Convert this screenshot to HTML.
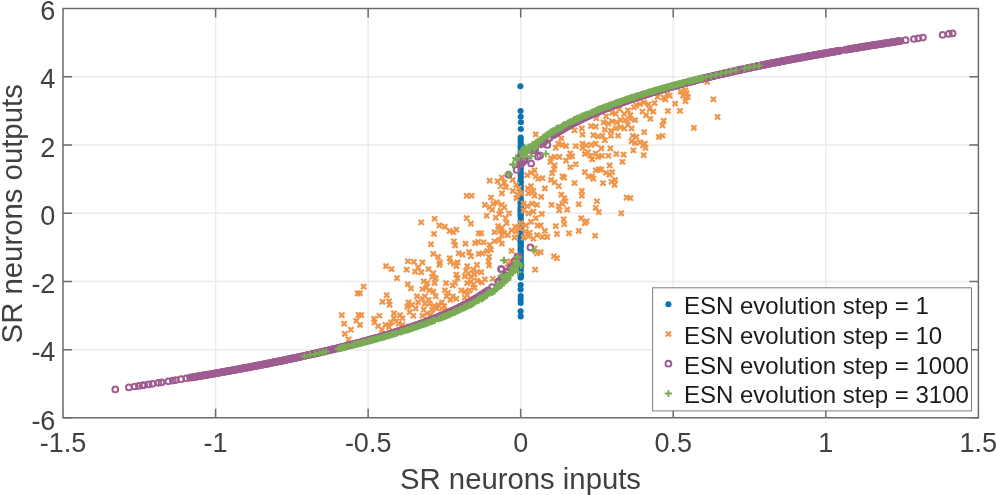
<!DOCTYPE html>
<html><head><meta charset="utf-8"><style>
html,body{margin:0;padding:0;background:#fff;width:996px;height:495px;overflow:hidden}
svg{display:block;font-family:"Liberation Sans",sans-serif;will-change:transform;filter:blur(0.3px)}
</style></head><body>
<svg width="996" height="495" viewBox="0 0 996 495">
<rect width="996" height="495" fill="#fff"/>
<path d="M215.60 8.4V417.8M368.15 8.4V417.8M520.70 8.4V417.8M673.25 8.4V417.8M825.80 8.4V417.8M63.0 349.65H978.4M63.0 281.40H978.4M63.0 213.15H978.4M63.0 144.90H978.4M63.0 76.65H978.4" stroke="#ebebeb" stroke-width="1.5" fill="none"/><g fill="#0b73b3"><circle cx="520.4" cy="86.2" r="3.05"/><circle cx="520.6" cy="111.0" r="3.05"/><circle cx="520.7" cy="116.8" r="3.05"/><circle cx="520.9" cy="122.2" r="3.05"/><circle cx="520.8" cy="129.0" r="3.05"/><circle cx="520.7" cy="137.5" r="3.05"/><circle cx="520.6" cy="139.8" r="3.05"/><circle cx="520.7" cy="142.5" r="3.05"/><circle cx="520.9" cy="145.1" r="3.05"/><circle cx="520.6" cy="146.5" r="3.05"/><circle cx="520.7" cy="148.1" r="3.05"/><circle cx="520.8" cy="150.9" r="3.05"/><circle cx="520.7" cy="151.9" r="3.05"/><circle cx="520.7" cy="154.5" r="3.05"/><circle cx="520.5" cy="157.1" r="3.05"/><circle cx="520.7" cy="159.1" r="3.05"/><circle cx="520.6" cy="160.7" r="3.05"/><circle cx="520.9" cy="162.2" r="3.05"/><circle cx="520.8" cy="163.7" r="3.05"/><circle cx="520.7" cy="165.6" r="3.05"/><circle cx="520.8" cy="167.6" r="3.05"/><circle cx="520.6" cy="169.8" r="3.05"/><circle cx="520.9" cy="172.7" r="3.05"/><circle cx="520.7" cy="175.3" r="3.05"/><circle cx="520.8" cy="177.6" r="3.05"/><circle cx="520.5" cy="180.6" r="3.05"/><circle cx="520.8" cy="182.0" r="3.05"/><circle cx="520.4" cy="183.3" r="3.05"/><circle cx="520.4" cy="185.5" r="3.05"/><circle cx="520.7" cy="186.6" r="3.05"/><circle cx="520.6" cy="187.7" r="3.05"/><circle cx="520.7" cy="189.7" r="3.05"/><circle cx="521.0" cy="191.7" r="3.05"/><circle cx="520.6" cy="194.5" r="3.05"/><circle cx="520.6" cy="196.7" r="3.05"/><circle cx="520.7" cy="198.8" r="3.05"/><circle cx="520.8" cy="200.8" r="3.05"/><circle cx="520.7" cy="202.3" r="3.05"/><circle cx="520.7" cy="203.3" r="3.05"/><circle cx="520.8" cy="204.7" r="3.05"/><circle cx="520.8" cy="207.1" r="3.05"/><circle cx="520.5" cy="208.5" r="3.05"/><circle cx="520.7" cy="210.2" r="3.05"/><circle cx="520.7" cy="211.2" r="3.05"/><circle cx="520.5" cy="213.9" r="3.05"/><circle cx="520.7" cy="215.2" r="3.05"/><circle cx="520.6" cy="216.7" r="3.05"/><circle cx="520.8" cy="219.5" r="3.05"/><circle cx="520.7" cy="221.5" r="3.05"/><circle cx="520.7" cy="224.2" r="3.05"/><circle cx="520.6" cy="226.5" r="3.05"/><circle cx="520.7" cy="228.9" r="3.05"/><circle cx="520.4" cy="230.1" r="3.05"/><circle cx="520.5" cy="232.2" r="3.05"/><circle cx="520.8" cy="234.2" r="3.05"/><circle cx="520.4" cy="237.0" r="3.05"/><circle cx="520.8" cy="238.7" r="3.05"/><circle cx="520.4" cy="240.9" r="3.05"/><circle cx="520.8" cy="242.0" r="3.05"/><circle cx="520.6" cy="243.8" r="3.05"/><circle cx="520.8" cy="245.4" r="3.05"/><circle cx="520.7" cy="246.7" r="3.05"/><circle cx="520.5" cy="249.4" r="3.05"/><circle cx="520.9" cy="251.1" r="3.05"/><circle cx="520.9" cy="254.1" r="3.05"/><circle cx="520.7" cy="256.3" r="3.05"/><circle cx="520.7" cy="258.5" r="3.05"/><circle cx="520.7" cy="260.7" r="3.05"/><circle cx="520.6" cy="263.1" r="3.05"/><circle cx="520.9" cy="264.4" r="3.05"/><circle cx="520.6" cy="266.3" r="3.05"/><circle cx="520.7" cy="267.8" r="3.05"/><circle cx="520.6" cy="269.6" r="3.05"/><circle cx="520.6" cy="270.8" r="3.05"/><circle cx="520.5" cy="273.7" r="3.05"/><circle cx="520.9" cy="275.1" r="3.05"/><circle cx="520.7" cy="277.5" r="3.05"/><circle cx="520.8" cy="277.5" r="3.05"/><circle cx="520.7" cy="285.0" r="3.05"/><circle cx="520.6" cy="289.5" r="3.05"/><circle cx="520.7" cy="296.0" r="3.05"/><circle cx="520.6" cy="299.5" r="3.05"/><circle cx="520.7" cy="303.0" r="3.05"/><circle cx="520.6" cy="311.2" r="3.05"/><circle cx="520.7" cy="316.4" r="3.05"/></g><path stroke="#f0964a" stroke-width="2.3" fill="none" d="M704.7 79.3l5.1 5.1M709.8 79.3l-5.1 5.1M678.1 89.0l5.1 5.1M683.2 89.0l-5.1 5.1M682.9 87.8l5.1 5.1M688.0 87.8l-5.1 5.1M684.1 90.8l5.1 5.1M689.2 90.8l-5.1 5.1M680.5 93.2l5.1 5.1M685.6 93.2l-5.1 5.1M685.3 94.4l5.1 5.1M690.4 94.4l-5.1 5.1M682.9 98.7l5.1 5.1M688.0 98.7l-5.1 5.1M664.7 92.0l5.1 5.1M669.8 92.0l-5.1 5.1M667.1 93.2l5.1 5.1M672.2 93.2l-5.1 5.1M661.1 95.0l5.1 5.1M666.2 95.0l-5.1 5.1M662.9 96.8l5.1 5.1M668.0 96.8l-5.1 5.1M672.6 101.1l5.1 5.1M677.7 101.1l-5.1 5.1M710.8 96.8l5.1 5.1M715.9 96.8l-5.1 5.1M665.3 108.4l5.1 5.1M670.4 108.4l-5.1 5.1M677.5 108.4l5.1 5.1M682.5 108.4l-5.1 5.1M715.0 114.4l5.1 5.1M720.1 114.4l-5.1 5.1M661.1 118.1l5.1 5.1M666.2 118.1l-5.1 5.1M659.9 122.9l5.1 5.1M665.0 122.9l-5.1 5.1M691.4 125.3l5.1 5.1M696.5 125.3l-5.1 5.1M659.9 133.2l5.1 5.1M665.0 133.2l-5.1 5.1M655.0 94.4l5.1 5.1M660.1 94.4l-5.1 5.1M652.0 100.5l5.1 5.1M657.1 100.5l-5.1 5.1M645.9 101.7l5.1 5.1M651.0 101.7l-5.1 5.1M641.1 99.9l5.1 5.1M646.2 99.9l-5.1 5.1M637.5 101.7l5.1 5.1M642.5 101.7l-5.1 5.1M633.8 102.9l5.1 5.1M638.9 102.9l-5.1 5.1M631.4 104.7l5.1 5.1M636.5 104.7l-5.1 5.1M647.1 106.5l5.1 5.1M652.2 106.5l-5.1 5.1M650.8 109.0l5.1 5.1M655.9 109.0l-5.1 5.1M643.5 112.6l5.1 5.1M648.6 112.6l-5.1 5.1M647.8 116.2l5.1 5.1M652.9 116.2l-5.1 5.1M639.9 109.0l5.1 5.1M645.0 109.0l-5.1 5.1M625.3 107.8l5.1 5.1M630.4 107.8l-5.1 5.1M621.7 111.4l5.1 5.1M626.8 111.4l-5.1 5.1M627.8 112.6l5.1 5.1M632.9 112.6l-5.1 5.1M616.8 106.5l5.1 5.1M621.9 106.5l-5.1 5.1M613.2 111.4l5.1 5.1M618.3 111.4l-5.1 5.1M609.6 110.2l5.1 5.1M614.7 110.2l-5.1 5.1M603.5 113.8l5.1 5.1M608.6 113.8l-5.1 5.1M601.1 119.9l5.1 5.1M606.2 119.9l-5.1 5.1M605.9 121.1l5.1 5.1M611.0 121.1l-5.1 5.1M609.6 118.7l5.1 5.1M614.7 118.7l-5.1 5.1M614.4 119.9l5.1 5.1M619.5 119.9l-5.1 5.1M618.1 117.5l5.1 5.1M623.2 117.5l-5.1 5.1M622.9 117.5l5.1 5.1M628.0 117.5l-5.1 5.1M627.8 116.2l5.1 5.1M632.9 116.2l-5.1 5.1M632.6 117.5l5.1 5.1M637.7 117.5l-5.1 5.1M625.3 122.3l5.1 5.1M630.4 122.3l-5.1 5.1M629.0 125.9l5.1 5.1M634.1 125.9l-5.1 5.1M621.7 125.9l5.1 5.1M626.8 125.9l-5.1 5.1M618.1 124.7l5.1 5.1M623.2 124.7l-5.1 5.1M613.2 125.9l5.1 5.1M618.3 125.9l-5.1 5.1M608.4 128.4l5.1 5.1M613.5 128.4l-5.1 5.1M602.3 127.1l5.1 5.1M607.4 127.1l-5.1 5.1M599.9 133.2l5.1 5.1M605.0 133.2l-5.1 5.1M608.4 133.2l5.1 5.1M613.5 133.2l-5.1 5.1M615.6 133.2l5.1 5.1M620.7 133.2l-5.1 5.1M630.2 133.2l5.1 5.1M635.3 133.2l-5.1 5.1M633.8 134.4l5.1 5.1M638.9 134.4l-5.1 5.1M641.7 129.6l5.1 5.1M646.8 129.6l-5.1 5.1M656.2 134.4l5.1 5.1M661.3 134.4l-5.1 5.1M593.8 115.6l5.1 5.1M598.9 115.6l-5.1 5.1M588.4 123.5l5.1 5.1M593.5 123.5l-5.1 5.1M593.2 124.1l5.1 5.1M598.3 124.1l-5.1 5.1M579.3 125.9l5.1 5.1M584.4 125.9l-5.1 5.1M572.0 127.8l5.1 5.1M577.1 127.8l-5.1 5.1M579.9 132.0l5.1 5.1M585.0 132.0l-5.1 5.1M590.8 132.6l5.1 5.1M595.9 132.6l-5.1 5.1M595.6 133.8l5.1 5.1M600.7 133.8l-5.1 5.1M558.7 135.9l5.1 5.1M563.8 135.9l-5.1 5.1M555.6 141.1l5.1 5.1M560.7 141.1l-5.1 5.1M559.9 142.3l5.1 5.1M565.0 142.3l-5.1 5.1M563.5 143.5l5.1 5.1M568.6 143.5l-5.1 5.1M553.2 145.3l5.1 5.1M558.3 145.3l-5.1 5.1M573.2 143.5l5.1 5.1M578.3 143.5l-5.1 5.1M579.9 141.1l5.1 5.1M585.0 141.1l-5.1 5.1M583.5 142.9l5.1 5.1M588.6 142.9l-5.1 5.1M588.4 142.3l5.1 5.1M593.5 142.3l-5.1 5.1M593.2 141.1l5.1 5.1M598.3 141.1l-5.1 5.1M579.9 145.3l5.1 5.1M585.0 145.3l-5.1 5.1M585.3 149.6l5.1 5.1M590.4 149.6l-5.1 5.1M587.8 153.2l5.1 5.1M592.9 153.2l-5.1 5.1M589.6 156.8l5.1 5.1M594.7 156.8l-5.1 5.1M582.3 151.4l5.1 5.1M587.4 151.4l-5.1 5.1M593.2 150.8l5.1 5.1M598.3 150.8l-5.1 5.1M595.6 154.4l5.1 5.1M600.7 154.4l-5.1 5.1M567.8 150.8l5.1 5.1M572.9 150.8l-5.1 5.1M566.5 154.4l5.1 5.1M571.6 154.4l-5.1 5.1M569.6 153.8l5.1 5.1M574.7 153.8l-5.1 5.1M563.5 158.1l5.1 5.1M568.6 158.1l-5.1 5.1M548.4 155.6l5.1 5.1M553.5 155.6l-5.1 5.1M552.0 154.4l5.1 5.1M557.1 154.4l-5.1 5.1M556.8 154.4l5.1 5.1M561.9 154.4l-5.1 5.1M547.8 159.3l5.1 5.1M552.9 159.3l-5.1 5.1M552.0 162.9l5.1 5.1M557.1 162.9l-5.1 5.1M551.4 166.5l5.1 5.1M556.5 166.5l-5.1 5.1M567.8 164.7l5.1 5.1M572.9 164.7l-5.1 5.1M573.2 161.7l5.1 5.1M578.3 161.7l-5.1 5.1M549.6 170.8l5.1 5.1M554.7 170.8l-5.1 5.1M559.9 173.8l5.1 5.1M565.0 173.8l-5.1 5.1M561.7 175.0l5.1 5.1M566.8 175.0l-5.1 5.1M548.4 177.4l5.1 5.1M553.5 177.4l-5.1 5.1M552.0 179.9l5.1 5.1M557.1 179.9l-5.1 5.1M556.2 183.5l5.1 5.1M561.3 183.5l-5.1 5.1M539.9 175.6l5.1 5.1M545.0 175.6l-5.1 5.1M542.3 185.9l5.1 5.1M547.4 185.9l-5.1 5.1M572.0 180.5l5.1 5.1M577.1 180.5l-5.1 5.1M582.3 169.6l5.1 5.1M587.4 169.6l-5.1 5.1M585.9 173.8l5.1 5.1M591.0 173.8l-5.1 5.1M589.6 173.8l5.1 5.1M594.7 173.8l-5.1 5.1M593.2 167.8l5.1 5.1M598.3 167.8l-5.1 5.1M596.2 166.5l5.1 5.1M601.3 166.5l-5.1 5.1M590.8 176.2l5.1 5.1M595.9 176.2l-5.1 5.1M579.3 188.4l5.1 5.1M584.4 188.4l-5.1 5.1M579.3 193.2l5.1 5.1M584.4 193.2l-5.1 5.1M558.7 192.0l5.1 5.1M563.8 192.0l-5.1 5.1M561.7 195.6l5.1 5.1M566.8 195.6l-5.1 5.1M538.7 194.4l5.1 5.1M543.8 194.4l-5.1 5.1M602.3 137.7l5.1 5.1M607.4 137.7l-5.1 5.1M629.0 138.7l5.1 5.1M634.1 138.7l-5.1 5.1M632.6 140.5l5.1 5.1M637.7 140.5l-5.1 5.1M637.5 139.9l5.1 5.1M642.5 139.9l-5.1 5.1M642.3 141.1l5.1 5.1M647.4 141.1l-5.1 5.1M642.9 145.3l5.1 5.1M648.0 145.3l-5.1 5.1M640.5 142.9l5.1 5.1M645.6 142.9l-5.1 5.1M630.8 147.8l5.1 5.1M635.9 147.8l-5.1 5.1M641.1 152.6l5.1 5.1M646.2 152.6l-5.1 5.1M598.7 145.9l5.1 5.1M603.8 145.9l-5.1 5.1M607.8 145.9l5.1 5.1M612.9 145.9l-5.1 5.1M599.3 153.2l5.1 5.1M604.4 153.2l-5.1 5.1M605.9 153.2l5.1 5.1M611.0 153.2l-5.1 5.1M613.8 151.4l5.1 5.1M618.9 151.4l-5.1 5.1M621.1 152.0l5.1 5.1M626.2 152.0l-5.1 5.1M619.9 159.3l5.1 5.1M625.0 159.3l-5.1 5.1M607.1 162.9l5.1 5.1M612.2 162.9l-5.1 5.1M598.7 167.1l5.1 5.1M603.8 167.1l-5.1 5.1M603.5 170.2l5.1 5.1M608.6 170.2l-5.1 5.1M609.6 169.6l5.1 5.1M614.7 169.6l-5.1 5.1M607.1 172.0l5.1 5.1M612.2 172.0l-5.1 5.1M612.6 177.4l5.1 5.1M617.7 177.4l-5.1 5.1M609.0 179.3l5.1 5.1M614.1 179.3l-5.1 5.1M612.0 182.3l5.1 5.1M617.1 182.3l-5.1 5.1M600.5 180.5l5.1 5.1M605.6 180.5l-5.1 5.1M624.1 195.0l5.1 5.1M629.2 195.0l-5.1 5.1M627.8 195.6l5.1 5.1M632.9 195.6l-5.1 5.1M487.1 178.1l5.1 5.1M492.2 178.1l-5.1 5.1M495.0 178.7l5.1 5.1M500.1 178.7l-5.1 5.1M499.3 175.0l5.1 5.1M504.4 175.0l-5.1 5.1M501.7 179.9l5.1 5.1M506.8 179.9l-5.1 5.1M498.1 183.5l5.1 5.1M503.2 183.5l-5.1 5.1M503.5 184.7l5.1 5.1M508.6 184.7l-5.1 5.1M499.3 190.8l5.1 5.1M504.4 190.8l-5.1 5.1M488.4 195.0l5.1 5.1M493.5 195.0l-5.1 5.1M510.2 177.4l5.1 5.1M515.3 177.4l-5.1 5.1M513.8 182.3l5.1 5.1M518.9 182.3l-5.1 5.1M516.2 185.9l5.1 5.1M521.3 185.9l-5.1 5.1M510.2 188.4l5.1 5.1M515.3 188.4l-5.1 5.1M515.0 192.0l5.1 5.1M520.1 192.0l-5.1 5.1M518.7 190.8l5.1 5.1M523.8 190.8l-5.1 5.1M525.3 185.9l5.1 5.1M530.4 185.9l-5.1 5.1M528.4 183.5l5.1 5.1M533.5 183.5l-5.1 5.1M530.8 188.4l5.1 5.1M535.9 188.4l-5.1 5.1M525.9 190.8l5.1 5.1M531.0 190.8l-5.1 5.1M532.0 193.2l5.1 5.1M537.1 193.2l-5.1 5.1M528.4 170.2l5.1 5.1M533.5 170.2l-5.1 5.1M532.0 167.8l5.1 5.1M537.1 167.8l-5.1 5.1M524.7 172.6l5.1 5.1M529.8 172.6l-5.1 5.1M533.2 173.8l5.1 5.1M538.3 173.8l-5.1 5.1M535.6 176.2l5.1 5.1M540.7 176.2l-5.1 5.1M513.8 195.6l5.1 5.1M518.9 195.6l-5.1 5.1M482.3 202.3l5.1 5.1M487.4 202.3l-5.1 5.1M487.1 204.7l5.1 5.1M492.2 204.7l-5.1 5.1M490.8 201.1l5.1 5.1M495.9 201.1l-5.1 5.1M494.4 199.9l5.1 5.1M499.5 199.9l-5.1 5.1M499.3 202.3l5.1 5.1M504.4 202.3l-5.1 5.1M501.7 204.7l5.1 5.1M506.8 204.7l-5.1 5.1M489.6 207.1l5.1 5.1M494.7 207.1l-5.1 5.1M484.1 213.2l5.1 5.1M489.2 213.2l-5.1 5.1M493.2 215.0l5.1 5.1M498.3 215.0l-5.1 5.1M496.8 211.4l5.1 5.1M501.9 211.4l-5.1 5.1M498.1 208.4l5.1 5.1M503.2 208.4l-5.1 5.1M506.5 210.8l5.1 5.1M511.6 210.8l-5.1 5.1M502.9 215.6l5.1 5.1M508.0 215.6l-5.1 5.1M495.6 223.5l5.1 5.1M500.7 223.5l-5.1 5.1M499.3 225.3l5.1 5.1M504.4 225.3l-5.1 5.1M504.1 220.5l5.1 5.1M509.2 220.5l-5.1 5.1M497.4 227.8l5.1 5.1M502.6 227.8l-5.1 5.1M492.0 229.6l5.1 5.1M497.1 229.6l-5.1 5.1M501.7 230.2l5.1 5.1M506.8 230.2l-5.1 5.1M499.3 232.6l5.1 5.1M504.4 232.6l-5.1 5.1M505.3 232.6l5.1 5.1M510.4 232.6l-5.1 5.1M509.0 227.8l5.1 5.1M514.1 227.8l-5.1 5.1M512.6 224.1l5.1 5.1M517.7 224.1l-5.1 5.1M513.8 229.0l5.1 5.1M518.9 229.0l-5.1 5.1M512.0 235.0l5.1 5.1M517.1 235.0l-5.1 5.1M478.7 230.8l5.1 5.1M483.8 230.8l-5.1 5.1M481.1 239.9l5.1 5.1M486.2 239.9l-5.1 5.1M487.1 242.3l5.1 5.1M492.2 242.3l-5.1 5.1M492.0 238.7l5.1 5.1M497.1 238.7l-5.1 5.1M496.8 237.4l5.1 5.1M501.9 237.4l-5.1 5.1M499.3 241.1l5.1 5.1M504.4 241.1l-5.1 5.1M484.7 248.4l5.1 5.1M489.8 248.4l-5.1 5.1M479.9 250.8l5.1 5.1M485.0 250.8l-5.1 5.1M488.4 247.1l5.1 5.1M493.5 247.1l-5.1 5.1M486.5 254.4l5.1 5.1M491.6 254.4l-5.1 5.1M509.0 248.4l5.1 5.1M514.1 248.4l-5.1 5.1M518.1 220.5l5.1 5.1M523.2 220.5l-5.1 5.1M517.5 225.9l5.1 5.1M522.5 225.9l-5.1 5.1M523.5 222.9l5.1 5.1M528.6 222.9l-5.1 5.1M522.9 229.0l5.1 5.1M528.0 229.0l-5.1 5.1M527.1 230.2l5.1 5.1M532.2 230.2l-5.1 5.1M525.9 233.8l5.1 5.1M531.0 233.8l-5.1 5.1M521.1 235.0l5.1 5.1M526.2 235.0l-5.1 5.1M530.8 236.2l5.1 5.1M535.9 236.2l-5.1 5.1M534.4 232.6l5.1 5.1M539.5 232.6l-5.1 5.1M534.4 250.8l5.1 5.1M539.5 250.8l-5.1 5.1M532.0 245.9l5.1 5.1M537.1 245.9l-5.1 5.1M521.1 201.1l5.1 5.1M526.2 201.1l-5.1 5.1M524.7 203.5l5.1 5.1M529.8 203.5l-5.1 5.1M529.6 201.1l5.1 5.1M534.7 201.1l-5.1 5.1M534.4 202.3l5.1 5.1M539.5 202.3l-5.1 5.1M521.1 207.8l5.1 5.1M526.2 207.8l-5.1 5.1M525.9 210.8l5.1 5.1M531.0 210.8l-5.1 5.1M530.8 209.0l5.1 5.1M535.9 209.0l-5.1 5.1M533.2 215.6l5.1 5.1M538.3 215.6l-5.1 5.1M535.0 222.9l5.1 5.1M540.1 222.9l-5.1 5.1M528.4 219.3l5.1 5.1M533.5 219.3l-5.1 5.1M549.0 202.3l5.1 5.1M554.1 202.3l-5.1 5.1M556.2 203.5l5.1 5.1M561.3 203.5l-5.1 5.1M556.8 207.8l5.1 5.1M561.9 207.8l-5.1 5.1M559.9 201.1l5.1 5.1M565.0 201.1l-5.1 5.1M562.9 198.7l5.1 5.1M568.0 198.7l-5.1 5.1M564.7 207.1l5.1 5.1M569.8 207.1l-5.1 5.1M576.2 201.7l5.1 5.1M581.3 201.7l-5.1 5.1M594.4 198.7l5.1 5.1M599.5 198.7l-5.1 5.1M593.2 205.3l5.1 5.1M598.3 205.3l-5.1 5.1M596.2 209.6l5.1 5.1M601.3 209.6l-5.1 5.1M539.3 211.4l5.1 5.1M544.4 211.4l-5.1 5.1M561.1 216.8l5.1 5.1M566.2 216.8l-5.1 5.1M561.7 221.7l5.1 5.1M566.8 221.7l-5.1 5.1M553.2 223.5l5.1 5.1M558.3 223.5l-5.1 5.1M578.7 215.6l5.1 5.1M583.8 215.6l-5.1 5.1M582.3 220.5l5.1 5.1M587.4 220.5l-5.1 5.1M584.1 218.7l5.1 5.1M589.2 218.7l-5.1 5.1M538.1 222.9l5.1 5.1M543.2 222.9l-5.1 5.1M542.3 228.4l5.1 5.1M547.4 228.4l-5.1 5.1M539.9 234.4l5.1 5.1M545.0 234.4l-5.1 5.1M544.7 234.4l5.1 5.1M549.8 234.4l-5.1 5.1M554.4 231.4l5.1 5.1M559.5 231.4l-5.1 5.1M566.5 230.8l5.1 5.1M571.6 230.8l-5.1 5.1M576.2 228.4l5.1 5.1M581.3 228.4l-5.1 5.1M592.6 233.2l5.1 5.1M597.7 233.2l-5.1 5.1M538.1 249.6l5.1 5.1M543.2 249.6l-5.1 5.1M551.4 253.8l5.1 5.1M556.5 253.8l-5.1 5.1M554.4 255.6l5.1 5.1M559.5 255.6l-5.1 5.1M618.7 210.8l5.1 5.1M623.8 210.8l-5.1 5.1M485.9 258.7l5.1 5.1M491.0 258.7l-5.1 5.1M486.5 262.9l5.1 5.1M491.6 262.9l-5.1 5.1M478.7 269.6l5.1 5.1M483.8 269.6l-5.1 5.1M482.3 276.8l5.1 5.1M487.4 276.8l-5.1 5.1M479.3 279.9l5.1 5.1M484.4 279.9l-5.1 5.1M490.2 276.2l5.1 5.1M495.3 276.2l-5.1 5.1M505.3 261.1l5.1 5.1M510.4 261.1l-5.1 5.1M509.0 262.9l5.1 5.1M514.1 262.9l-5.1 5.1M511.4 259.9l5.1 5.1M516.5 259.9l-5.1 5.1M532.6 267.1l5.1 5.1M537.7 267.1l-5.1 5.1M507.8 258.7l5.1 5.1M512.9 258.7l-5.1 5.1M419.9 259.9l5.1 5.1M425.0 259.9l-5.1 5.1M437.4 259.9l5.1 5.1M442.6 259.9l-5.1 5.1M436.8 262.3l5.1 5.1M441.9 262.3l-5.1 5.1M447.8 259.3l5.1 5.1M452.9 259.3l-5.1 5.1M451.4 261.1l5.1 5.1M456.5 261.1l-5.1 5.1M455.0 259.9l5.1 5.1M460.1 259.9l-5.1 5.1M453.8 263.5l5.1 5.1M458.9 263.5l-5.1 5.1M464.7 263.5l5.1 5.1M469.8 263.5l-5.1 5.1M474.4 262.3l5.1 5.1M479.5 262.3l-5.1 5.1M470.8 267.1l5.1 5.1M475.9 267.1l-5.1 5.1M425.9 266.5l5.1 5.1M431.0 266.5l-5.1 5.1M418.7 269.6l5.1 5.1M423.8 269.6l-5.1 5.1M430.8 270.8l5.1 5.1M435.9 270.8l-5.1 5.1M429.6 274.4l5.1 5.1M434.7 274.4l-5.1 5.1M433.2 275.6l5.1 5.1M438.3 275.6l-5.1 5.1M453.8 272.0l5.1 5.1M458.9 272.0l-5.1 5.1M455.0 275.6l5.1 5.1M460.1 275.6l-5.1 5.1M463.5 268.4l5.1 5.1M468.6 268.4l-5.1 5.1M465.9 270.8l5.1 5.1M471.0 270.8l-5.1 5.1M462.3 273.8l5.1 5.1M467.4 273.8l-5.1 5.1M468.4 274.4l5.1 5.1M473.5 274.4l-5.1 5.1M472.0 272.0l5.1 5.1M477.1 272.0l-5.1 5.1M474.4 269.6l5.1 5.1M479.5 269.6l-5.1 5.1M421.1 278.7l5.1 5.1M426.2 278.7l-5.1 5.1M424.7 280.5l5.1 5.1M429.8 280.5l-5.1 5.1M432.0 280.5l5.1 5.1M437.1 280.5l-5.1 5.1M443.5 280.5l5.1 5.1M448.6 280.5l-5.1 5.1M452.6 280.5l5.1 5.1M457.7 280.5l-5.1 5.1M450.2 282.9l5.1 5.1M455.3 282.9l-5.1 5.1M464.7 280.5l5.1 5.1M469.8 280.5l-5.1 5.1M468.4 279.3l5.1 5.1M473.5 279.3l-5.1 5.1M470.8 281.7l5.1 5.1M475.9 281.7l-5.1 5.1M474.4 278.1l5.1 5.1M479.5 278.1l-5.1 5.1M419.9 286.5l5.1 5.1M425.0 286.5l-5.1 5.1M423.5 285.3l5.1 5.1M428.6 285.3l-5.1 5.1M430.8 289.0l5.1 5.1M435.9 289.0l-5.1 5.1M427.1 287.8l5.1 5.1M432.2 287.8l-5.1 5.1M442.3 287.8l5.1 5.1M447.4 287.8l-5.1 5.1M445.3 290.2l5.1 5.1M450.4 290.2l-5.1 5.1M458.7 287.8l5.1 5.1M463.8 287.8l-5.1 5.1M462.3 289.0l5.1 5.1M467.4 289.0l-5.1 5.1M467.1 287.8l5.1 5.1M472.2 287.8l-5.1 5.1M472.0 285.3l5.1 5.1M477.1 285.3l-5.1 5.1M422.3 293.8l5.1 5.1M427.4 293.8l-5.1 5.1M419.9 296.2l5.1 5.1M425.0 296.2l-5.1 5.1M425.9 297.4l5.1 5.1M431.0 297.4l-5.1 5.1M433.2 293.8l5.1 5.1M438.3 293.8l-5.1 5.1M444.1 293.8l5.1 5.1M449.2 293.8l-5.1 5.1M450.2 293.8l5.1 5.1M455.3 293.8l-5.1 5.1M453.8 296.2l5.1 5.1M458.9 296.2l-5.1 5.1M447.8 297.4l5.1 5.1M452.9 297.4l-5.1 5.1M462.3 295.0l5.1 5.1M467.4 295.0l-5.1 5.1M464.7 292.6l5.1 5.1M469.8 292.6l-5.1 5.1M422.3 301.1l5.1 5.1M427.4 301.1l-5.1 5.1M427.1 301.1l5.1 5.1M432.2 301.1l-5.1 5.1M432.0 303.5l5.1 5.1M437.1 303.5l-5.1 5.1M435.6 302.3l5.1 5.1M440.7 302.3l-5.1 5.1M439.3 299.9l5.1 5.1M444.4 299.9l-5.1 5.1M441.7 303.5l5.1 5.1M446.8 303.5l-5.1 5.1M429.6 307.1l5.1 5.1M434.7 307.1l-5.1 5.1M434.4 305.9l5.1 5.1M439.5 305.9l-5.1 5.1M439.3 305.9l5.1 5.1M444.4 305.9l-5.1 5.1M421.1 307.1l5.1 5.1M426.2 307.1l-5.1 5.1M424.7 310.8l5.1 5.1M429.8 310.8l-5.1 5.1M419.9 313.2l5.1 5.1M425.0 313.2l-5.1 5.1M428.4 312.0l5.1 5.1M433.5 312.0l-5.1 5.1M444.1 308.4l5.1 5.1M449.2 308.4l-5.1 5.1M432.0 216.2l5.1 5.1M437.1 216.2l-5.1 5.1M418.7 219.9l5.1 5.1M423.8 219.9l-5.1 5.1M436.8 222.9l5.1 5.1M441.9 222.9l-5.1 5.1M442.3 224.1l5.1 5.1M447.4 224.1l-5.1 5.1M447.1 228.4l5.1 5.1M452.2 228.4l-5.1 5.1M450.8 229.6l5.1 5.1M455.9 229.6l-5.1 5.1M453.8 227.1l5.1 5.1M458.9 227.1l-5.1 5.1M431.4 231.4l5.1 5.1M436.5 231.4l-5.1 5.1M464.1 215.6l5.1 5.1M469.2 215.6l-5.1 5.1M468.4 221.1l5.1 5.1M473.5 221.1l-5.1 5.1M476.2 230.8l5.1 5.1M481.3 230.8l-5.1 5.1M428.4 241.7l5.1 5.1M433.5 241.7l-5.1 5.1M451.4 238.7l5.1 5.1M456.5 238.7l-5.1 5.1M452.6 242.9l5.1 5.1M457.7 242.9l-5.1 5.1M462.9 241.1l5.1 5.1M468.0 241.1l-5.1 5.1M472.6 240.5l5.1 5.1M477.7 240.5l-5.1 5.1M475.6 239.3l5.1 5.1M480.7 239.3l-5.1 5.1M430.8 251.4l5.1 5.1M435.9 251.4l-5.1 5.1M435.6 254.4l5.1 5.1M440.7 254.4l-5.1 5.1M447.1 255.6l5.1 5.1M452.2 255.6l-5.1 5.1M456.2 250.8l5.1 5.1M461.3 250.8l-5.1 5.1M459.9 252.0l5.1 5.1M465.0 252.0l-5.1 5.1M466.5 249.6l5.1 5.1M471.6 249.6l-5.1 5.1M468.4 253.8l5.1 5.1M473.5 253.8l-5.1 5.1M476.2 251.4l5.1 5.1M481.3 251.4l-5.1 5.1M383.5 263.5l5.1 5.1M388.6 263.5l-5.1 5.1M389.0 266.5l5.1 5.1M394.1 266.5l-5.1 5.1M405.3 258.7l5.1 5.1M410.4 258.7l-5.1 5.1M411.4 259.3l5.1 5.1M416.5 259.3l-5.1 5.1M404.1 267.1l5.1 5.1M409.2 267.1l-5.1 5.1M412.6 269.0l5.1 5.1M417.7 269.0l-5.1 5.1M415.6 264.7l5.1 5.1M420.7 264.7l-5.1 5.1M394.4 275.6l5.1 5.1M399.5 275.6l-5.1 5.1M361.1 284.1l5.1 5.1M366.2 284.1l-5.1 5.1M357.4 290.8l5.1 5.1M362.6 290.8l-5.1 5.1M405.3 281.7l5.1 5.1M410.4 281.7l-5.1 5.1M408.4 285.9l5.1 5.1M413.5 285.9l-5.1 5.1M384.1 292.6l5.1 5.1M389.2 292.6l-5.1 5.1M379.9 299.3l5.1 5.1M385.0 299.3l-5.1 5.1M386.5 298.7l5.1 5.1M391.6 298.7l-5.1 5.1M387.1 302.3l5.1 5.1M392.2 302.3l-5.1 5.1M405.9 299.9l5.1 5.1M411.0 299.9l-5.1 5.1M404.7 304.1l5.1 5.1M409.8 304.1l-5.1 5.1M409.6 302.3l5.1 5.1M414.7 302.3l-5.1 5.1M414.4 293.8l5.1 5.1M419.5 293.8l-5.1 5.1M415.6 299.9l5.1 5.1M420.7 299.9l-5.1 5.1M413.2 305.9l5.1 5.1M418.3 305.9l-5.1 5.1M407.1 309.6l5.1 5.1M412.2 309.6l-5.1 5.1M410.8 313.2l5.1 5.1M415.9 313.2l-5.1 5.1M358.7 312.6l5.1 5.1M363.8 312.6l-5.1 5.1M376.8 313.2l5.1 5.1M381.9 313.2l-5.1 5.1M371.4 316.2l5.1 5.1M376.5 316.2l-5.1 5.1M391.4 310.8l5.1 5.1M396.5 310.8l-5.1 5.1M397.4 312.6l5.1 5.1M402.6 312.6l-5.1 5.1M399.9 315.6l5.1 5.1M405.0 315.6l-5.1 5.1M391.4 315.6l5.1 5.1M396.5 315.6l-5.1 5.1M357.4 322.3l5.1 5.1M362.6 322.3l-5.1 5.1M372.0 319.9l5.1 5.1M377.1 319.9l-5.1 5.1M375.6 323.5l5.1 5.1M380.7 323.5l-5.1 5.1M379.3 327.1l5.1 5.1M384.4 327.1l-5.1 5.1M382.9 322.3l5.1 5.1M388.0 322.3l-5.1 5.1M386.5 324.7l5.1 5.1M391.6 324.7l-5.1 5.1M388.4 319.9l5.1 5.1M393.5 319.9l-5.1 5.1M396.2 321.1l5.1 5.1M401.3 321.1l-5.1 5.1M399.9 322.3l5.1 5.1M405.0 322.3l-5.1 5.1M393.8 318.7l5.1 5.1M398.9 318.7l-5.1 5.1M355.1 290.8l5.1 5.1M360.2 290.8l-5.1 5.1M339.2 312.6l5.1 5.1M344.4 312.6l-5.1 5.1M341.6 321.1l5.1 5.1M346.8 321.1l-5.1 5.1M348.3 327.1l5.1 5.1M353.4 327.1l-5.1 5.1M342.2 331.3l5.1 5.1M347.4 331.3l-5.1 5.1M345.9 336.8l5.1 5.1M351.1 336.8l-5.1 5.1M353.8 318.1l5.1 5.1M358.9 318.1l-5.1 5.1M355.9 312.4l5.1 5.1M361.1 312.4l-5.1 5.1M464.1 193.2l5.1 5.1M469.2 193.2l-5.1 5.1M469.0 193.2l5.1 5.1M474.1 193.2l-5.1 5.1M533.2 131.9l5.1 5.1M538.3 131.9l-5.1 5.1"/><g fill="none" stroke="#9e5c90" stroke-width="2"><circle cx="115.3" cy="389.4" r="2.85"/><circle cx="128.9" cy="387.4" r="2.85"/><circle cx="134.7" cy="386.5" r="2.85"/><circle cx="138.9" cy="385.9" r="2.85"/><circle cx="142.6" cy="385.3" r="2.85"/><circle cx="144.2" cy="385.1" r="2.85"/><circle cx="148.7" cy="384.4" r="2.85"/><circle cx="152.4" cy="383.8" r="2.85"/><circle cx="158.5" cy="382.8" r="2.85"/><circle cx="161.5" cy="382.4" r="2.85"/><circle cx="168.3" cy="381.3" r="2.85"/><circle cx="172.8" cy="380.6" r="2.85"/><circle cx="175.8" cy="380.1" r="2.85"/><circle cx="181.0" cy="379.2" r="2.85"/><circle cx="186.3" cy="378.3" r="2.85"/><circle cx="190.1" cy="377.7" r="2.85"/><circle cx="905.6" cy="40.2" r="2.85"/><circle cx="913.9" cy="39.0" r="2.85"/><circle cx="918.4" cy="38.3" r="2.85"/><circle cx="923.0" cy="37.6" r="2.85"/><circle cx="942.6" cy="34.8" r="2.85"/><circle cx="948.9" cy="33.9" r="2.85"/><circle cx="952.6" cy="33.4" r="2.85"/><circle cx="191.7" cy="377.4" r="2.85"/><circle cx="192.6" cy="377.3" r="2.85"/><circle cx="193.7" cy="377.1" r="2.85"/><circle cx="195.4" cy="376.8" r="2.85"/><circle cx="196.3" cy="376.7" r="2.85"/><circle cx="196.6" cy="376.6" r="2.85"/><circle cx="198.1" cy="376.4" r="2.85"/><circle cx="199.0" cy="376.2" r="2.85"/><circle cx="200.1" cy="376.0" r="2.85"/><circle cx="201.2" cy="375.8" r="2.85"/><circle cx="201.8" cy="375.7" r="2.85"/><circle cx="203.5" cy="375.4" r="2.85"/><circle cx="204.0" cy="375.4" r="2.85"/><circle cx="205.1" cy="375.2" r="2.85"/><circle cx="206.1" cy="375.0" r="2.85"/><circle cx="206.7" cy="374.9" r="2.85"/><circle cx="207.6" cy="374.7" r="2.85"/><circle cx="208.9" cy="374.5" r="2.85"/><circle cx="210.3" cy="374.3" r="2.85"/><circle cx="211.3" cy="374.1" r="2.85"/><circle cx="212.2" cy="373.9" r="2.85"/><circle cx="212.6" cy="373.9" r="2.85"/><circle cx="214.4" cy="373.5" r="2.85"/><circle cx="215.3" cy="373.4" r="2.85"/><circle cx="216.4" cy="373.2" r="2.85"/><circle cx="217.0" cy="373.1" r="2.85"/><circle cx="218.4" cy="372.8" r="2.85"/><circle cx="218.5" cy="372.8" r="2.85"/><circle cx="219.5" cy="372.6" r="2.85"/><circle cx="220.5" cy="372.5" r="2.85"/><circle cx="221.8" cy="372.2" r="2.85"/><circle cx="222.7" cy="372.1" r="2.85"/><circle cx="223.7" cy="371.9" r="2.85"/><circle cx="225.1" cy="371.6" r="2.85"/><circle cx="225.5" cy="371.6" r="2.85"/><circle cx="227.1" cy="371.3" r="2.85"/><circle cx="227.7" cy="371.2" r="2.85"/><circle cx="229.2" cy="370.9" r="2.85"/><circle cx="229.5" cy="370.8" r="2.85"/><circle cx="230.8" cy="370.6" r="2.85"/><circle cx="232.4" cy="370.3" r="2.85"/><circle cx="233.0" cy="370.2" r="2.85"/><circle cx="234.3" cy="370.0" r="2.85"/><circle cx="235.2" cy="369.8" r="2.85"/><circle cx="236.1" cy="369.6" r="2.85"/><circle cx="236.7" cy="369.5" r="2.85"/><circle cx="238.1" cy="369.3" r="2.85"/><circle cx="238.5" cy="369.2" r="2.85"/><circle cx="240.3" cy="368.9" r="2.85"/><circle cx="241.5" cy="368.6" r="2.85"/><circle cx="242.4" cy="368.5" r="2.85"/><circle cx="242.6" cy="368.4" r="2.85"/><circle cx="243.8" cy="368.2" r="2.85"/><circle cx="244.8" cy="368.0" r="2.85"/><circle cx="245.6" cy="367.9" r="2.85"/><circle cx="247.1" cy="367.6" r="2.85"/><circle cx="248.3" cy="367.4" r="2.85"/><circle cx="248.8" cy="367.3" r="2.85"/><circle cx="250.4" cy="367.0" r="2.85"/><circle cx="251.3" cy="366.8" r="2.85"/><circle cx="251.6" cy="366.7" r="2.85"/><circle cx="253.3" cy="366.4" r="2.85"/><circle cx="254.4" cy="366.2" r="2.85"/><circle cx="254.7" cy="366.1" r="2.85"/><circle cx="256.1" cy="365.9" r="2.85"/><circle cx="257.1" cy="365.7" r="2.85"/><circle cx="258.1" cy="365.5" r="2.85"/><circle cx="258.6" cy="365.4" r="2.85"/><circle cx="260.2" cy="365.1" r="2.85"/><circle cx="261.1" cy="364.9" r="2.85"/><circle cx="262.3" cy="364.7" r="2.85"/><circle cx="263.3" cy="364.5" r="2.85"/><circle cx="263.8" cy="364.4" r="2.85"/><circle cx="265.2" cy="364.1" r="2.85"/><circle cx="266.4" cy="363.9" r="2.85"/><circle cx="267.4" cy="363.7" r="2.85"/><circle cx="267.7" cy="363.6" r="2.85"/><circle cx="268.5" cy="363.4" r="2.85"/><circle cx="270.2" cy="363.1" r="2.85"/><circle cx="270.7" cy="363.0" r="2.85"/><circle cx="272.1" cy="362.7" r="2.85"/><circle cx="273.4" cy="362.4" r="2.85"/><circle cx="273.9" cy="362.3" r="2.85"/><circle cx="274.8" cy="362.2" r="2.85"/><circle cx="276.0" cy="361.9" r="2.85"/><circle cx="277.2" cy="361.7" r="2.85"/><circle cx="277.6" cy="361.6" r="2.85"/><circle cx="278.9" cy="361.3" r="2.85"/><circle cx="279.6" cy="361.2" r="2.85"/><circle cx="281.2" cy="360.9" r="2.85"/><circle cx="282.3" cy="360.6" r="2.85"/><circle cx="282.9" cy="360.5" r="2.85"/><circle cx="283.9" cy="360.3" r="2.85"/><circle cx="285.0" cy="360.1" r="2.85"/><circle cx="285.7" cy="359.9" r="2.85"/><circle cx="286.7" cy="359.7" r="2.85"/><circle cx="287.8" cy="359.5" r="2.85"/><circle cx="289.0" cy="359.2" r="2.85"/><circle cx="289.6" cy="359.1" r="2.85"/><circle cx="291.3" cy="358.7" r="2.85"/><circle cx="292.1" cy="358.6" r="2.85"/><circle cx="292.8" cy="358.4" r="2.85"/><circle cx="293.6" cy="358.3" r="2.85"/><circle cx="295.3" cy="357.9" r="2.85"/><circle cx="295.6" cy="357.8" r="2.85"/><circle cx="296.6" cy="357.6" r="2.85"/><circle cx="297.6" cy="357.4" r="2.85"/><circle cx="298.6" cy="357.2" r="2.85"/><circle cx="300.4" cy="356.8" r="2.85"/><circle cx="300.8" cy="356.7" r="2.85"/><circle cx="301.8" cy="356.5" r="2.85"/><circle cx="303.3" cy="356.1" r="2.85"/><circle cx="304.1" cy="356.0" r="2.85"/><circle cx="304.7" cy="355.8" r="2.85"/><circle cx="305.9" cy="355.6" r="2.85"/><circle cx="307.4" cy="355.2" r="2.85"/><circle cx="307.9" cy="355.1" r="2.85"/><circle cx="309.2" cy="354.8" r="2.85"/><circle cx="309.6" cy="354.8" r="2.85"/><circle cx="311.2" cy="354.4" r="2.85"/><circle cx="312.3" cy="354.1" r="2.85"/><circle cx="313.3" cy="353.9" r="2.85"/><circle cx="314.2" cy="353.7" r="2.85"/><circle cx="314.9" cy="353.6" r="2.85"/><circle cx="315.6" cy="353.4" r="2.85"/><circle cx="317.0" cy="353.1" r="2.85"/><circle cx="318.3" cy="352.8" r="2.85"/><circle cx="318.7" cy="352.7" r="2.85"/><circle cx="319.8" cy="352.4" r="2.85"/><circle cx="321.0" cy="352.1" r="2.85"/><circle cx="322.2" cy="351.9" r="2.85"/><circle cx="323.4" cy="351.6" r="2.85"/><circle cx="323.6" cy="351.5" r="2.85"/><circle cx="324.7" cy="351.3" r="2.85"/><circle cx="326.3" cy="350.9" r="2.85"/><circle cx="327.1" cy="350.7" r="2.85"/><circle cx="328.2" cy="350.5" r="2.85"/><circle cx="329.5" cy="350.1" r="2.85"/><circle cx="330.4" cy="349.9" r="2.85"/><circle cx="331.3" cy="349.7" r="2.85"/><circle cx="332.3" cy="349.5" r="2.85"/><circle cx="332.9" cy="349.3" r="2.85"/><circle cx="334.1" cy="349.0" r="2.85"/><circle cx="334.7" cy="348.9" r="2.85"/><circle cx="336.3" cy="348.5" r="2.85"/><circle cx="337.3" cy="348.3" r="2.85"/><circle cx="338.2" cy="348.0" r="2.85"/><circle cx="338.9" cy="347.9" r="2.85"/><circle cx="339.9" cy="347.6" r="2.85"/><circle cx="340.9" cy="347.4" r="2.85"/><circle cx="341.5" cy="347.2" r="2.85"/><circle cx="343.3" cy="346.8" r="2.85"/><circle cx="344.0" cy="346.6" r="2.85"/><circle cx="344.9" cy="346.4" r="2.85"/><circle cx="346.0" cy="346.1" r="2.85"/><circle cx="347.2" cy="345.8" r="2.85"/><circle cx="347.9" cy="345.6" r="2.85"/><circle cx="349.3" cy="345.2" r="2.85"/><circle cx="350.4" cy="345.0" r="2.85"/><circle cx="350.9" cy="344.8" r="2.85"/><circle cx="351.6" cy="344.6" r="2.85"/><circle cx="353.3" cy="344.2" r="2.85"/><circle cx="354.5" cy="343.9" r="2.85"/><circle cx="354.6" cy="343.9" r="2.85"/><circle cx="356.2" cy="343.5" r="2.85"/><circle cx="357.3" cy="343.2" r="2.85"/><circle cx="358.4" cy="342.9" r="2.85"/><circle cx="358.6" cy="342.8" r="2.85"/><circle cx="359.6" cy="342.6" r="2.85"/><circle cx="361.5" cy="342.1" r="2.85"/><circle cx="361.6" cy="342.0" r="2.85"/><circle cx="362.7" cy="341.7" r="2.85"/><circle cx="364.1" cy="341.4" r="2.85"/><circle cx="364.9" cy="341.1" r="2.85"/><circle cx="366.3" cy="340.8" r="2.85"/><circle cx="366.7" cy="340.6" r="2.85"/><circle cx="368.4" cy="340.2" r="2.85"/><circle cx="368.7" cy="340.1" r="2.85"/><circle cx="370.3" cy="339.6" r="2.85"/><circle cx="370.6" cy="339.6" r="2.85"/><circle cx="372.0" cy="339.2" r="2.85"/><circle cx="372.5" cy="339.0" r="2.85"/><circle cx="373.8" cy="338.7" r="2.85"/><circle cx="374.8" cy="338.4" r="2.85"/><circle cx="376.2" cy="338.0" r="2.85"/><circle cx="377.0" cy="337.8" r="2.85"/><circle cx="377.6" cy="337.6" r="2.85"/><circle cx="379.5" cy="337.0" r="2.85"/><circle cx="380.4" cy="336.8" r="2.85"/><circle cx="381.4" cy="336.5" r="2.85"/><circle cx="381.7" cy="336.4" r="2.85"/><circle cx="382.9" cy="336.0" r="2.85"/><circle cx="383.7" cy="335.8" r="2.85"/><circle cx="384.6" cy="335.5" r="2.85"/><circle cx="385.5" cy="335.2" r="2.85"/><circle cx="387.0" cy="334.8" r="2.85"/><circle cx="387.6" cy="334.6" r="2.85"/><circle cx="388.7" cy="334.3" r="2.85"/><circle cx="390.4" cy="333.8" r="2.85"/><circle cx="391.0" cy="333.6" r="2.85"/><circle cx="391.7" cy="333.4" r="2.85"/><circle cx="393.2" cy="332.9" r="2.85"/><circle cx="393.8" cy="332.7" r="2.85"/><circle cx="395.0" cy="332.3" r="2.85"/><circle cx="395.8" cy="332.1" r="2.85"/><circle cx="397.0" cy="331.7" r="2.85"/><circle cx="398.1" cy="331.4" r="2.85"/><circle cx="399.0" cy="331.1" r="2.85"/><circle cx="399.9" cy="330.8" r="2.85"/><circle cx="401.3" cy="330.4" r="2.85"/><circle cx="402.4" cy="330.0" r="2.85"/><circle cx="402.7" cy="329.9" r="2.85"/><circle cx="403.6" cy="329.6" r="2.85"/><circle cx="404.6" cy="329.3" r="2.85"/><circle cx="406.5" cy="328.7" r="2.85"/><circle cx="407.4" cy="328.3" r="2.85"/><circle cx="407.7" cy="328.2" r="2.85"/><circle cx="409.5" cy="327.7" r="2.85"/><circle cx="409.7" cy="327.6" r="2.85"/><circle cx="411.0" cy="327.1" r="2.85"/><circle cx="412.0" cy="326.8" r="2.85"/><circle cx="413.4" cy="326.3" r="2.85"/><circle cx="413.5" cy="326.3" r="2.85"/><circle cx="414.8" cy="325.8" r="2.85"/><circle cx="416.1" cy="325.4" r="2.85"/><circle cx="416.6" cy="325.2" r="2.85"/><circle cx="417.7" cy="324.8" r="2.85"/><circle cx="419.0" cy="324.4" r="2.85"/><circle cx="420.4" cy="323.8" r="2.85"/><circle cx="421.3" cy="323.5" r="2.85"/><circle cx="422.3" cy="323.1" r="2.85"/><circle cx="423.3" cy="322.8" r="2.85"/><circle cx="424.2" cy="322.5" r="2.85"/><circle cx="425.3" cy="322.0" r="2.85"/><circle cx="426.2" cy="321.7" r="2.85"/><circle cx="427.2" cy="321.3" r="2.85"/><circle cx="427.8" cy="321.1" r="2.85"/><circle cx="428.7" cy="320.8" r="2.85"/><circle cx="430.3" cy="320.2" r="2.85"/><circle cx="430.7" cy="320.0" r="2.85"/><circle cx="432.4" cy="319.3" r="2.85"/><circle cx="433.1" cy="319.1" r="2.85"/><circle cx="433.8" cy="318.8" r="2.85"/><circle cx="435.4" cy="318.1" r="2.85"/><circle cx="435.7" cy="318.0" r="2.85"/><circle cx="437.0" cy="317.5" r="2.85"/><circle cx="437.6" cy="317.3" r="2.85"/><circle cx="439.5" cy="316.5" r="2.85"/><circle cx="440.1" cy="316.2" r="2.85"/><circle cx="441.3" cy="315.7" r="2.85"/><circle cx="441.8" cy="315.5" r="2.85"/><circle cx="443.3" cy="314.9" r="2.85"/><circle cx="444.2" cy="314.5" r="2.85"/><circle cx="445.1" cy="314.1" r="2.85"/><circle cx="446.5" cy="313.5" r="2.85"/><circle cx="446.9" cy="313.3" r="2.85"/><circle cx="447.9" cy="312.9" r="2.85"/><circle cx="449.2" cy="312.3" r="2.85"/><circle cx="450.3" cy="311.8" r="2.85"/><circle cx="450.8" cy="311.6" r="2.85"/><circle cx="452.2" cy="311.0" r="2.85"/><circle cx="452.7" cy="310.7" r="2.85"/><circle cx="454.1" cy="310.1" r="2.85"/><circle cx="455.3" cy="309.5" r="2.85"/><circle cx="455.6" cy="309.4" r="2.85"/><circle cx="457.2" cy="308.6" r="2.85"/><circle cx="457.5" cy="308.4" r="2.85"/><circle cx="459.5" cy="307.5" r="2.85"/><circle cx="460.0" cy="307.2" r="2.85"/><circle cx="460.9" cy="306.7" r="2.85"/><circle cx="462.2" cy="306.1" r="2.85"/><circle cx="463.0" cy="305.7" r="2.85"/><circle cx="464.2" cy="305.0" r="2.85"/><circle cx="464.6" cy="304.9" r="2.85"/><circle cx="466.1" cy="304.1" r="2.85"/><circle cx="467.1" cy="303.5" r="2.85"/><circle cx="468.4" cy="302.8" r="2.85"/><circle cx="468.5" cy="302.7" r="2.85"/><circle cx="470.0" cy="301.9" r="2.85"/><circle cx="471.1" cy="301.3" r="2.85"/><circle cx="472.1" cy="300.7" r="2.85"/><circle cx="472.6" cy="300.4" r="2.85"/><circle cx="474.1" cy="299.6" r="2.85"/><circle cx="474.7" cy="299.2" r="2.85"/><circle cx="475.7" cy="298.6" r="2.85"/><circle cx="477.4" cy="297.6" r="2.85"/><circle cx="477.7" cy="297.4" r="2.85"/><circle cx="479.0" cy="296.6" r="2.85"/><circle cx="480.3" cy="295.7" r="2.85"/><circle cx="481.2" cy="295.1" r="2.85"/><circle cx="482.1" cy="294.6" r="2.85"/><circle cx="483.3" cy="293.7" r="2.85"/><circle cx="484.0" cy="293.3" r="2.85"/><circle cx="485.1" cy="292.4" r="2.85"/><circle cx="486.3" cy="291.6" r="2.85"/><circle cx="488.1" cy="290.3" r="2.85"/><circle cx="492.2" cy="287.1" r="2.85"/><circle cx="498.3" cy="281.8" r="2.85"/><circle cx="498.9" cy="281.3" r="2.85"/><circle cx="501.3" cy="278.9" r="2.85"/><circle cx="501.9" cy="278.2" r="2.85"/><circle cx="503.5" cy="276.5" r="2.85"/><circle cx="504.9" cy="275.0" r="2.85"/><circle cx="508.1" cy="271.2" r="2.85"/><circle cx="510.2" cy="268.3" r="2.85"/><circle cx="511.1" cy="267.0" r="2.85"/><circle cx="514.8" cy="260.9" r="2.85"/><circle cx="517.5" cy="256.6" r="2.85"/><circle cx="517.9" cy="256.5" r="2.85"/><circle cx="518.9" cy="256.3" r="2.85"/><circle cx="522.4" cy="162.6" r="2.85"/><circle cx="523.9" cy="160.9" r="2.85"/><circle cx="524.8" cy="159.9" r="2.85"/><circle cx="528.6" cy="155.7" r="2.85"/><circle cx="533.9" cy="150.5" r="2.85"/><circle cx="535.3" cy="149.2" r="2.85"/><circle cx="541.0" cy="144.3" r="2.85"/><circle cx="542.8" cy="142.8" r="2.85"/><circle cx="544.2" cy="141.7" r="2.85"/><circle cx="548.9" cy="138.2" r="2.85"/><circle cx="549.6" cy="137.8" r="2.85"/><circle cx="553.1" cy="135.3" r="2.85"/><circle cx="555.1" cy="134.0" r="2.85"/><circle cx="555.8" cy="133.6" r="2.85"/><circle cx="557.0" cy="132.8" r="2.85"/><circle cx="558.0" cy="132.1" r="2.85"/><circle cx="559.1" cy="131.4" r="2.85"/><circle cx="559.7" cy="131.1" r="2.85"/><circle cx="561.5" cy="130.0" r="2.85"/><circle cx="561.8" cy="129.8" r="2.85"/><circle cx="562.8" cy="129.2" r="2.85"/><circle cx="563.8" cy="128.7" r="2.85"/><circle cx="564.6" cy="128.2" r="2.85"/><circle cx="565.9" cy="127.4" r="2.85"/><circle cx="567.3" cy="126.6" r="2.85"/><circle cx="568.2" cy="126.1" r="2.85"/><circle cx="568.7" cy="125.9" r="2.85"/><circle cx="569.6" cy="125.3" r="2.85"/><circle cx="570.8" cy="124.7" r="2.85"/><circle cx="572.3" cy="123.9" r="2.85"/><circle cx="573.0" cy="123.5" r="2.85"/><circle cx="574.4" cy="122.8" r="2.85"/><circle cx="575.2" cy="122.4" r="2.85"/><circle cx="576.1" cy="121.9" r="2.85"/><circle cx="577.3" cy="121.3" r="2.85"/><circle cx="578.3" cy="120.8" r="2.85"/><circle cx="578.8" cy="120.5" r="2.85"/><circle cx="579.8" cy="120.1" r="2.85"/><circle cx="580.9" cy="119.5" r="2.85"/><circle cx="582.0" cy="119.0" r="2.85"/><circle cx="582.6" cy="118.7" r="2.85"/><circle cx="583.9" cy="118.1" r="2.85"/><circle cx="585.1" cy="117.5" r="2.85"/><circle cx="585.6" cy="117.3" r="2.85"/><circle cx="586.6" cy="116.8" r="2.85"/><circle cx="587.7" cy="116.3" r="2.85"/><circle cx="588.8" cy="115.8" r="2.85"/><circle cx="590.5" cy="115.1" r="2.85"/><circle cx="590.5" cy="115.0" r="2.85"/><circle cx="591.7" cy="114.5" r="2.85"/><circle cx="592.7" cy="114.1" r="2.85"/><circle cx="594.0" cy="113.5" r="2.85"/><circle cx="594.5" cy="113.3" r="2.85"/><circle cx="596.0" cy="112.7" r="2.85"/><circle cx="596.7" cy="112.4" r="2.85"/><circle cx="597.8" cy="111.9" r="2.85"/><circle cx="599.3" cy="111.2" r="2.85"/><circle cx="599.7" cy="111.1" r="2.85"/><circle cx="601.1" cy="110.5" r="2.85"/><circle cx="601.9" cy="110.2" r="2.85"/><circle cx="602.9" cy="109.8" r="2.85"/><circle cx="604.3" cy="109.2" r="2.85"/><circle cx="604.7" cy="109.0" r="2.85"/><circle cx="606.4" cy="108.3" r="2.85"/><circle cx="607.4" cy="108.0" r="2.85"/><circle cx="608.2" cy="107.7" r="2.85"/><circle cx="608.5" cy="107.5" r="2.85"/><circle cx="610.2" cy="106.9" r="2.85"/><circle cx="611.1" cy="106.5" r="2.85"/><circle cx="612.3" cy="106.1" r="2.85"/><circle cx="612.7" cy="105.9" r="2.85"/><circle cx="614.5" cy="105.2" r="2.85"/><circle cx="615.4" cy="104.9" r="2.85"/><circle cx="615.6" cy="104.8" r="2.85"/><circle cx="616.8" cy="104.4" r="2.85"/><circle cx="617.5" cy="104.1" r="2.85"/><circle cx="619.3" cy="103.4" r="2.85"/><circle cx="620.4" cy="103.0" r="2.85"/><circle cx="621.5" cy="102.7" r="2.85"/><circle cx="622.1" cy="102.4" r="2.85"/><circle cx="623.2" cy="102.1" r="2.85"/><circle cx="624.2" cy="101.7" r="2.85"/><circle cx="625.1" cy="101.4" r="2.85"/><circle cx="626.5" cy="100.9" r="2.85"/><circle cx="627.1" cy="100.7" r="2.85"/><circle cx="627.8" cy="100.4" r="2.85"/><circle cx="629.0" cy="100.0" r="2.85"/><circle cx="629.5" cy="99.8" r="2.85"/><circle cx="631.2" cy="99.3" r="2.85"/><circle cx="632.2" cy="98.9" r="2.85"/><circle cx="632.9" cy="98.7" r="2.85"/><circle cx="634.4" cy="98.2" r="2.85"/><circle cx="635.3" cy="97.9" r="2.85"/><circle cx="635.8" cy="97.7" r="2.85"/><circle cx="636.6" cy="97.5" r="2.85"/><circle cx="637.6" cy="97.1" r="2.85"/><circle cx="638.7" cy="96.8" r="2.85"/><circle cx="639.8" cy="96.4" r="2.85"/><circle cx="640.9" cy="96.0" r="2.85"/><circle cx="642.4" cy="95.6" r="2.85"/><circle cx="642.8" cy="95.4" r="2.85"/><circle cx="644.4" cy="94.9" r="2.85"/><circle cx="645.2" cy="94.7" r="2.85"/><circle cx="646.4" cy="94.3" r="2.85"/><circle cx="646.9" cy="94.1" r="2.85"/><circle cx="647.5" cy="93.9" r="2.85"/><circle cx="649.3" cy="93.4" r="2.85"/><circle cx="649.7" cy="93.3" r="2.85"/><circle cx="650.6" cy="93.0" r="2.85"/><circle cx="652.3" cy="92.5" r="2.85"/><circle cx="653.2" cy="92.2" r="2.85"/><circle cx="653.7" cy="92.0" r="2.85"/><circle cx="654.8" cy="91.7" r="2.85"/><circle cx="656.4" cy="91.2" r="2.85"/><circle cx="656.8" cy="91.1" r="2.85"/><circle cx="658.2" cy="90.7" r="2.85"/><circle cx="658.6" cy="90.6" r="2.85"/><circle cx="660.3" cy="90.1" r="2.85"/><circle cx="660.6" cy="90.0" r="2.85"/><circle cx="662.0" cy="89.6" r="2.85"/><circle cx="662.5" cy="89.4" r="2.85"/><circle cx="664.1" cy="89.0" r="2.85"/><circle cx="665.3" cy="88.6" r="2.85"/><circle cx="665.6" cy="88.5" r="2.85"/><circle cx="666.8" cy="88.2" r="2.85"/><circle cx="668.3" cy="87.8" r="2.85"/><circle cx="669.1" cy="87.5" r="2.85"/><circle cx="669.8" cy="87.3" r="2.85"/><circle cx="671.1" cy="87.0" r="2.85"/><circle cx="672.0" cy="86.7" r="2.85"/><circle cx="673.4" cy="86.3" r="2.85"/><circle cx="673.8" cy="86.2" r="2.85"/><circle cx="675.3" cy="85.8" r="2.85"/><circle cx="676.1" cy="85.6" r="2.85"/><circle cx="677.2" cy="85.3" r="2.85"/><circle cx="677.9" cy="85.1" r="2.85"/><circle cx="679.2" cy="84.7" r="2.85"/><circle cx="680.2" cy="84.5" r="2.85"/><circle cx="680.9" cy="84.3" r="2.85"/><circle cx="681.5" cy="84.1" r="2.85"/><circle cx="683.5" cy="83.6" r="2.85"/><circle cx="684.2" cy="83.4" r="2.85"/><circle cx="684.7" cy="83.3" r="2.85"/><circle cx="686.2" cy="82.8" r="2.85"/><circle cx="686.8" cy="82.7" r="2.85"/><circle cx="688.0" cy="82.4" r="2.85"/><circle cx="689.4" cy="82.0" r="2.85"/><circle cx="689.9" cy="81.9" r="2.85"/><circle cx="690.8" cy="81.7" r="2.85"/><circle cx="691.8" cy="81.4" r="2.85"/><circle cx="692.6" cy="81.2" r="2.85"/><circle cx="693.7" cy="80.9" r="2.85"/><circle cx="694.8" cy="80.6" r="2.85"/><circle cx="695.7" cy="80.4" r="2.85"/><circle cx="696.6" cy="80.2" r="2.85"/><circle cx="698.0" cy="79.8" r="2.85"/><circle cx="698.7" cy="79.6" r="2.85"/><circle cx="700.2" cy="79.2" r="2.85"/><circle cx="701.4" cy="79.0" r="2.85"/><circle cx="701.8" cy="78.9" r="2.85"/><circle cx="703.1" cy="78.5" r="2.85"/><circle cx="704.0" cy="78.3" r="2.85"/><circle cx="704.6" cy="78.2" r="2.85"/><circle cx="705.6" cy="77.9" r="2.85"/><circle cx="707.4" cy="77.5" r="2.85"/><circle cx="708.0" cy="77.3" r="2.85"/><circle cx="709.3" cy="77.0" r="2.85"/><circle cx="709.6" cy="77.0" r="2.85"/><circle cx="711.1" cy="76.6" r="2.85"/><circle cx="712.4" cy="76.3" r="2.85"/><circle cx="713.4" cy="76.0" r="2.85"/><circle cx="713.5" cy="76.0" r="2.85"/><circle cx="715.0" cy="75.6" r="2.85"/><circle cx="715.9" cy="75.4" r="2.85"/><circle cx="717.3" cy="75.1" r="2.85"/><circle cx="717.6" cy="75.0" r="2.85"/><circle cx="718.8" cy="74.8" r="2.85"/><circle cx="720.3" cy="74.4" r="2.85"/><circle cx="721.0" cy="74.2" r="2.85"/><circle cx="722.0" cy="74.0" r="2.85"/><circle cx="723.5" cy="73.7" r="2.85"/><circle cx="723.8" cy="73.6" r="2.85"/><circle cx="724.5" cy="73.4" r="2.85"/><circle cx="725.9" cy="73.1" r="2.85"/><circle cx="726.7" cy="72.9" r="2.85"/><circle cx="727.6" cy="72.7" r="2.85"/><circle cx="729.1" cy="72.4" r="2.85"/><circle cx="730.5" cy="72.1" r="2.85"/><circle cx="731.1" cy="71.9" r="2.85"/><circle cx="732.1" cy="71.7" r="2.85"/><circle cx="732.8" cy="71.5" r="2.85"/><circle cx="734.1" cy="71.3" r="2.85"/><circle cx="735.3" cy="71.0" r="2.85"/><circle cx="736.1" cy="70.8" r="2.85"/><circle cx="737.3" cy="70.5" r="2.85"/><circle cx="738.1" cy="70.4" r="2.85"/><circle cx="738.7" cy="70.2" r="2.85"/><circle cx="740.1" cy="69.9" r="2.85"/><circle cx="741.0" cy="69.7" r="2.85"/><circle cx="741.7" cy="69.6" r="2.85"/><circle cx="743.1" cy="69.3" r="2.85"/><circle cx="744.3" cy="69.0" r="2.85"/><circle cx="744.6" cy="68.9" r="2.85"/><circle cx="746.0" cy="68.6" r="2.85"/><circle cx="747.2" cy="68.4" r="2.85"/><circle cx="747.9" cy="68.2" r="2.85"/><circle cx="748.8" cy="68.0" r="2.85"/><circle cx="749.9" cy="67.8" r="2.85"/><circle cx="751.0" cy="67.6" r="2.85"/><circle cx="752.2" cy="67.3" r="2.85"/><circle cx="753.1" cy="67.1" r="2.85"/><circle cx="753.6" cy="67.0" r="2.85"/><circle cx="755.3" cy="66.6" r="2.85"/><circle cx="756.4" cy="66.4" r="2.85"/><circle cx="756.6" cy="66.4" r="2.85"/><circle cx="757.7" cy="66.1" r="2.85"/><circle cx="758.7" cy="65.9" r="2.85"/><circle cx="760.3" cy="65.6" r="2.85"/><circle cx="761.4" cy="65.4" r="2.85"/><circle cx="761.5" cy="65.4" r="2.85"/><circle cx="762.8" cy="65.1" r="2.85"/><circle cx="763.7" cy="64.9" r="2.85"/><circle cx="765.0" cy="64.7" r="2.85"/><circle cx="766.4" cy="64.4" r="2.85"/><circle cx="766.6" cy="64.3" r="2.85"/><circle cx="767.7" cy="64.1" r="2.85"/><circle cx="769.0" cy="63.8" r="2.85"/><circle cx="770.0" cy="63.6" r="2.85"/><circle cx="771.2" cy="63.4" r="2.85"/><circle cx="771.9" cy="63.2" r="2.85"/><circle cx="772.6" cy="63.1" r="2.85"/><circle cx="773.9" cy="62.9" r="2.85"/><circle cx="775.5" cy="62.5" r="2.85"/><circle cx="776.3" cy="62.4" r="2.85"/><circle cx="776.6" cy="62.3" r="2.85"/><circle cx="778.3" cy="62.0" r="2.85"/><circle cx="778.8" cy="61.9" r="2.85"/><circle cx="780.3" cy="61.6" r="2.85"/><circle cx="780.5" cy="61.5" r="2.85"/><circle cx="782.4" cy="61.2" r="2.85"/><circle cx="782.7" cy="61.1" r="2.85"/><circle cx="784.0" cy="60.9" r="2.85"/><circle cx="785.2" cy="60.6" r="2.85"/><circle cx="786.0" cy="60.5" r="2.85"/><circle cx="786.7" cy="60.3" r="2.85"/><circle cx="787.6" cy="60.2" r="2.85"/><circle cx="788.8" cy="59.9" r="2.85"/><circle cx="789.6" cy="59.8" r="2.85"/><circle cx="790.7" cy="59.6" r="2.85"/><circle cx="791.6" cy="59.4" r="2.85"/><circle cx="793.0" cy="59.1" r="2.85"/><circle cx="793.9" cy="59.0" r="2.85"/><circle cx="795.1" cy="58.7" r="2.85"/><circle cx="795.8" cy="58.6" r="2.85"/><circle cx="796.5" cy="58.5" r="2.85"/><circle cx="797.8" cy="58.2" r="2.85"/><circle cx="799.3" cy="58.0" r="2.85"/><circle cx="799.8" cy="57.9" r="2.85"/><circle cx="800.9" cy="57.6" r="2.85"/><circle cx="802.3" cy="57.4" r="2.85"/><circle cx="802.9" cy="57.3" r="2.85"/><circle cx="804.4" cy="57.0" r="2.85"/><circle cx="805.4" cy="56.8" r="2.85"/><circle cx="805.8" cy="56.7" r="2.85"/><circle cx="807.2" cy="56.5" r="2.85"/><circle cx="807.8" cy="56.4" r="2.85"/><circle cx="808.6" cy="56.2" r="2.85"/><circle cx="809.9" cy="56.0" r="2.85"/><circle cx="811.1" cy="55.8" r="2.85"/><circle cx="812.4" cy="55.5" r="2.85"/><circle cx="812.6" cy="55.5" r="2.85"/><circle cx="814.2" cy="55.2" r="2.85"/><circle cx="815.0" cy="55.1" r="2.85"/><circle cx="815.6" cy="55.0" r="2.85"/><circle cx="817.5" cy="54.6" r="2.85"/><circle cx="818.2" cy="54.5" r="2.85"/><circle cx="818.6" cy="54.4" r="2.85"/><circle cx="820.4" cy="54.1" r="2.85"/><circle cx="820.6" cy="54.1" r="2.85"/><circle cx="821.6" cy="53.9" r="2.85"/><circle cx="822.8" cy="53.7" r="2.85"/><circle cx="824.4" cy="53.4" r="2.85"/><circle cx="824.5" cy="53.4" r="2.85"/><circle cx="826.4" cy="53.0" r="2.85"/><circle cx="827.1" cy="52.9" r="2.85"/><circle cx="827.6" cy="52.8" r="2.85"/><circle cx="829.1" cy="52.6" r="2.85"/><circle cx="830.0" cy="52.4" r="2.85"/><circle cx="831.1" cy="52.2" r="2.85"/><circle cx="832.2" cy="52.0" r="2.85"/><circle cx="833.2" cy="51.9" r="2.85"/><circle cx="834.5" cy="51.6" r="2.85"/><circle cx="834.7" cy="51.6" r="2.85"/><circle cx="836.3" cy="51.3" r="2.85"/><circle cx="836.9" cy="51.2" r="2.85"/><circle cx="838.3" cy="51.0" r="2.85"/><circle cx="839.4" cy="50.8" r="2.85"/><circle cx="840.5" cy="50.6" r="2.85"/><circle cx="845.3" cy="49.8" r="2.85"/><circle cx="846.7" cy="49.6" r="2.85"/><circle cx="848.3" cy="49.3" r="2.85"/><circle cx="849.5" cy="49.1" r="2.85"/><circle cx="850.2" cy="49.0" r="2.85"/><circle cx="851.9" cy="48.7" r="2.85"/><circle cx="852.6" cy="48.6" r="2.85"/><circle cx="853.8" cy="48.4" r="2.85"/><circle cx="855.3" cy="48.1" r="2.85"/><circle cx="856.3" cy="48.0" r="2.85"/><circle cx="857.5" cy="47.8" r="2.85"/><circle cx="858.6" cy="47.6" r="2.85"/><circle cx="859.8" cy="47.4" r="2.85"/><circle cx="860.8" cy="47.2" r="2.85"/><circle cx="861.9" cy="47.0" r="2.85"/><circle cx="863.7" cy="46.7" r="2.85"/><circle cx="864.8" cy="46.6" r="2.85"/><circle cx="866.0" cy="46.4" r="2.85"/><circle cx="867.3" cy="46.2" r="2.85"/><circle cx="868.1" cy="46.0" r="2.85"/><circle cx="869.3" cy="45.8" r="2.85"/><circle cx="870.5" cy="45.6" r="2.85"/><circle cx="871.7" cy="45.4" r="2.85"/><circle cx="873.3" cy="45.2" r="2.85"/><circle cx="874.2" cy="45.1" r="2.85"/><circle cx="875.4" cy="44.9" r="2.85"/><circle cx="876.8" cy="44.6" r="2.85"/><circle cx="877.6" cy="44.5" r="2.85"/><circle cx="878.8" cy="44.3" r="2.85"/><circle cx="880.5" cy="44.1" r="2.85"/><circle cx="881.7" cy="43.9" r="2.85"/><circle cx="882.5" cy="43.7" r="2.85"/><circle cx="884.0" cy="43.5" r="2.85"/><circle cx="884.7" cy="43.4" r="2.85"/><circle cx="886.2" cy="43.2" r="2.85"/><circle cx="887.6" cy="43.0" r="2.85"/><circle cx="888.5" cy="42.8" r="2.85"/><circle cx="889.8" cy="42.6" r="2.85"/><circle cx="891.2" cy="42.4" r="2.85"/><circle cx="892.4" cy="42.2" r="2.85"/><circle cx="893.2" cy="42.1" r="2.85"/><circle cx="894.9" cy="41.8" r="2.85"/><circle cx="895.6" cy="41.7" r="2.85"/><circle cx="897.5" cy="41.4" r="2.85"/><circle cx="898.1" cy="41.3" r="2.85"/><circle cx="899.3" cy="41.2" r="2.85"/><circle cx="900.5" cy="41.0" r="2.85"/><circle cx="508.5" cy="174.8" r="2.85"/><circle cx="516.6" cy="169.9" r="2.85"/><circle cx="520.7" cy="164.3" r="2.85"/><circle cx="521.5" cy="157.8" r="2.85"/><circle cx="531.2" cy="163.5" r="2.85"/><circle cx="540.1" cy="155.4" r="2.85"/><circle cx="547.4" cy="144.9" r="2.85"/><circle cx="520.2" cy="156.7" r="2.85"/><circle cx="520.2" cy="164.0" r="2.85"/><circle cx="538.0" cy="156.7" r="2.85"/><circle cx="530.4" cy="247.4" r="2.85"/><circle cx="517.4" cy="257.5" r="2.85"/><circle cx="501.1" cy="269.2" r="2.85"/><circle cx="501.5" cy="269.0" r="2.85"/></g><path stroke="#7aac56" stroke-width="2" fill="none" d="M300.8 356.5h7.4M304.5 353.0v7.0M306.3 355.3h7.4M310.0 351.8v7.0M311.3 354.2h7.4M315.0 350.7v7.0M315.9 353.1h7.4M319.6 349.6v7.0M319.3 352.4h7.4M323.0 348.9v7.0M322.3 351.7h7.4M326.0 348.2v7.0M702.3 77.1h7.4M706.0 73.6v7.0M707.3 75.9h7.4M711.0 72.4v7.0M712.3 74.7h7.4M716.0 71.2v7.0M717.3 73.6h7.4M721.0 70.1v7.0M722.3 72.4h7.4M726.0 68.9v7.0M727.3 71.3h7.4M731.0 67.8v7.0M732.3 70.2h7.4M736.0 66.7v7.0M740.9 68.4h7.4M744.6 64.9v7.0M745.8 67.3h7.4M749.5 63.8v7.0M750.3 66.4h7.4M754.0 62.9v7.0M755.3 65.4h7.4M759.0 61.9v7.0M481.2 296.2h7.4M484.9 292.7v7.0M447.9 313.7h7.4M451.6 310.2v7.0M337.3 348.2h7.4M341.0 344.7v7.0M495.9 285.7h7.4M499.6 282.2v7.0M407.1 328.6h7.4M410.8 325.1v7.0M594.3 109.6h7.4M598.0 106.1v7.0M651.4 90.4h7.4M655.1 86.9v7.0M661.6 87.5h7.4M665.3 84.0v7.0M449.9 312.6h7.4M453.6 309.1v7.0M436.6 318.1h7.4M440.3 314.6v7.0M677.1 83.4h7.4M680.8 79.9v7.0M369.5 339.9h7.4M373.2 336.4v7.0M351.0 344.7h7.4M354.7 341.2v7.0M695.8 78.6h7.4M699.5 75.1v7.0M545.7 134.4h7.4M549.4 130.9v7.0M354.2 343.9h7.4M357.9 340.4v7.0M520.9 151.3h7.4M524.6 147.8v7.0M493.2 286.7h7.4M496.9 283.2v7.0M681.5 82.2h7.4M685.2 78.7v7.0M680.6 82.4h7.4M684.3 78.9v7.0M379.9 337.0h7.4M383.6 333.5v7.0M389.7 334.1h7.4M393.4 330.6v7.0M483.0 295.5h7.4M486.7 292.0v7.0M638.7 94.2h7.4M642.4 90.7v7.0M562.0 124.5h7.4M565.7 121.0v7.0M600.7 107.2h7.4M604.4 103.7v7.0M544.6 133.8h7.4M548.3 130.3v7.0M411.0 327.3h7.4M414.7 323.8v7.0M632.8 96.1h7.4M636.5 92.6v7.0M339.4 347.6h7.4M343.1 344.1v7.0M589.2 112.0h7.4M592.9 108.5v7.0M405.2 329.3h7.4M408.9 325.8v7.0M506.2 274.6h7.4M509.9 271.1v7.0M690.2 80.0h7.4M693.9 76.5v7.0M531.0 146.3h7.4M534.7 142.8v7.0M355.1 343.7h7.4M358.8 340.2v7.0M490.8 291.0h7.4M494.5 287.5v7.0M575.3 118.1h7.4M579.0 114.6v7.0M355.0 343.7h7.4M358.7 340.2v7.0M426.5 321.9h7.4M430.2 318.4v7.0M341.0 347.3h7.4M344.7 343.8v7.0M531.4 147.4h7.4M535.1 143.9v7.0M473.5 300.2h7.4M477.2 296.7v7.0M442.3 315.9h7.4M446.0 312.4v7.0M574.0 119.0h7.4M577.7 115.5v7.0M397.5 331.7h7.4M401.2 328.2v7.0M665.2 86.5h7.4M668.9 83.0v7.0M684.7 81.4h7.4M688.4 77.9v7.0M514.2 262.8h7.4M517.9 259.3v7.0M504.2 277.9h7.4M507.9 274.4v7.0M648.1 91.4h7.4M651.8 87.9v7.0M440.1 316.6h7.4M443.8 313.1v7.0M627.4 97.8h7.4M631.1 94.3v7.0M439.2 317.0h7.4M442.9 313.5v7.0M597.1 108.7h7.4M600.8 105.2v7.0M456.2 309.8h7.4M459.9 306.3v7.0M554.2 127.9h7.4M557.9 124.4v7.0M672.2 84.6h7.4M675.9 81.1v7.0M354.1 344.0h7.4M357.8 340.5v7.0M628.9 97.4h7.4M632.6 93.9v7.0M532.1 142.7h7.4M535.8 139.2v7.0M472.7 301.2h7.4M476.4 297.7v7.0M462.2 306.9h7.4M465.9 303.4v7.0M359.6 342.5h7.4M363.3 339.0v7.0M428.6 321.0h7.4M432.3 317.5v7.0M561.7 124.9h7.4M565.4 121.4v7.0M369.9 339.8h7.4M373.6 336.3v7.0M578.6 116.1h7.4M582.3 112.6v7.0M685.5 81.2h7.4M689.2 77.7v7.0M692.3 79.5h7.4M696.0 76.0v7.0M658.9 88.3h7.4M662.6 84.8v7.0M628.7 97.5h7.4M632.4 94.0v7.0M399.3 331.1h7.4M403.0 327.6v7.0M688.4 80.5h7.4M692.1 77.0v7.0M408.3 328.3h7.4M412.0 324.8v7.0M651.5 90.4h7.4M655.2 86.9v7.0M654.7 89.5h7.4M658.4 86.0v7.0M561.3 124.9h7.4M565.0 121.4v7.0M524.6 148.4h7.4M528.3 144.9v7.0M407.5 328.6h7.4M411.2 325.1v7.0M523.9 148.1h7.4M527.6 144.6v7.0M440.4 316.7h7.4M444.1 313.2v7.0M380.2 336.9h7.4M383.9 333.4v7.0M381.1 336.6h7.4M384.8 333.1v7.0M626.7 98.1h7.4M630.4 94.6v7.0M671.0 85.0h7.4M674.7 81.5v7.0M386.1 335.2h7.4M389.8 331.7v7.0M339.1 347.7h7.4M342.8 344.2v7.0M430.5 320.4h7.4M434.2 316.9v7.0M383.4 336.0h7.4M387.1 332.5v7.0M403.1 329.9h7.4M406.8 326.4v7.0M547.2 132.1h7.4M550.9 128.6v7.0M488.4 292.4h7.4M492.1 288.9v7.0M491.0 289.5h7.4M494.7 286.0v7.0M409.3 328.0h7.4M413.0 324.5v7.0M576.9 117.3h7.4M580.6 113.8v7.0M440.0 316.6h7.4M443.7 313.1v7.0M480.0 296.9h7.4M483.7 293.4v7.0M503.4 279.9h7.4M507.1 276.4v7.0M664.4 86.8h7.4M668.1 83.3v7.0M424.2 322.8h7.4M427.9 319.3v7.0M596.6 108.9h7.4M600.3 105.4v7.0M447.2 313.7h7.4M450.9 310.2v7.0M660.8 87.8h7.4M664.5 84.3v7.0M478.1 299.1h7.4M481.8 295.6v7.0M654.5 89.6h7.4M658.2 86.1v7.0M579.9 115.7h7.4M583.6 112.2v7.0M368.7 340.1h7.4M372.4 336.6v7.0M384.2 335.7h7.4M387.9 332.2v7.0M695.9 78.6h7.4M699.6 75.1v7.0M344.9 346.3h7.4M348.6 342.8v7.0M444.1 314.9h7.4M447.8 311.4v7.0M684.3 81.5h7.4M688.0 78.0v7.0M339.8 347.5h7.4M343.5 344.0v7.0M393.2 333.0h7.4M396.9 329.5v7.0M412.2 327.0h7.4M415.9 323.5v7.0M365.8 340.9h7.4M369.5 337.4v7.0M506.6 275.1h7.4M510.3 271.6v7.0M550.5 131.7h7.4M554.2 128.2v7.0M450.5 312.4h7.4M454.2 308.9v7.0M374.0 338.6h7.4M377.7 335.1v7.0M630.3 97.0h7.4M634.0 93.5v7.0M627.9 97.7h7.4M631.6 94.2v7.0M539.5 137.5h7.4M543.2 134.0v7.0M384.6 335.6h7.4M388.3 332.1v7.0M532.1 143.8h7.4M535.8 140.3v7.0M564.1 123.1h7.4M567.8 119.6v7.0M490.6 289.7h7.4M494.3 286.2v7.0M649.6 91.0h7.4M653.3 87.5v7.0M476.7 298.0h7.4M480.4 294.5v7.0M520.8 152.3h7.4M524.5 148.8v7.0M376.0 338.1h7.4M379.7 334.6v7.0M540.0 137.1h7.4M543.7 133.6v7.0M614.1 102.3h7.4M617.8 98.8v7.0M601.2 107.1h7.4M604.9 103.6v7.0M428.1 321.3h7.4M431.8 317.8v7.0M696.3 78.5h7.4M700.0 75.0v7.0M597.1 108.6h7.4M600.8 105.1v7.0M489.0 291.4h7.4M492.7 287.9v7.0M485.7 292.3h7.4M489.4 288.8v7.0M618.8 100.7h7.4M622.5 97.2v7.0M398.4 331.5h7.4M402.1 328.0v7.0M567.8 121.4h7.4M571.5 117.9v7.0M596.7 108.8h7.4M600.4 105.3v7.0M522.8 153.0h7.4M526.5 149.5v7.0M653.0 90.0h7.4M656.7 86.5v7.0M505.4 275.5h7.4M509.1 272.0v7.0M504.0 277.9h7.4M507.7 274.4v7.0M438.2 317.5h7.4M441.9 314.0v7.0M669.9 85.3h7.4M673.6 81.8v7.0M449.7 312.5h7.4M453.4 309.0v7.0M588.1 112.2h7.4M591.8 108.7v7.0M483.7 293.8h7.4M487.4 290.3v7.0M675.7 83.7h7.4M679.4 80.2v7.0M680.3 82.5h7.4M684.0 79.0v7.0M345.3 346.2h7.4M349.0 342.7v7.0M697.3 78.3h7.4M701.0 74.8v7.0M555.1 128.3h7.4M558.8 124.8v7.0M361.3 342.1h7.4M365.0 338.6v7.0M352.4 344.4h7.4M356.1 340.9v7.0M534.6 141.5h7.4M538.3 138.0v7.0M402.0 330.3h7.4M405.7 326.8v7.0M468.6 303.6h7.4M472.3 300.1v7.0M445.5 314.3h7.4M449.2 310.8v7.0M554.1 128.8h7.4M557.8 125.3v7.0M634.5 95.6h7.4M638.2 92.1v7.0M676.1 83.6h7.4M679.8 80.1v7.0M454.3 310.7h7.4M458.0 307.2v7.0M542.2 135.3h7.4M545.9 131.8v7.0M336.5 348.4h7.4M340.2 344.9v7.0M470.1 303.1h7.4M473.8 299.6v7.0M685.0 81.3h7.4M688.7 77.8v7.0M377.7 337.6h7.4M381.4 334.1v7.0M651.8 90.3h7.4M655.5 86.8v7.0M572.5 119.1h7.4M576.2 115.6v7.0M441.6 316.0h7.4M445.3 312.5v7.0M618.3 101.0h7.4M622.0 97.5v7.0M439.9 316.7h7.4M443.6 313.2v7.0M660.9 87.7h7.4M664.6 84.2v7.0M364.5 341.2h7.4M368.2 337.7v7.0M377.7 337.6h7.4M381.4 334.1v7.0M608.1 104.6h7.4M611.8 101.1v7.0M498.3 283.5h7.4M502.0 280.0v7.0M388.1 334.6h7.4M391.8 331.1v7.0M521.7 152.2h7.4M525.4 148.7v7.0M442.7 315.8h7.4M446.4 312.3v7.0M534.8 141.5h7.4M538.5 138.0v7.0M605.8 105.4h7.4M609.5 101.9v7.0M647.0 91.7h7.4M650.7 88.2v7.0M355.8 343.5h7.4M359.5 340.0v7.0M550.5 130.8h7.4M554.2 127.3v7.0M693.3 79.2h7.4M697.0 75.7v7.0M502.1 276.6h7.4M505.8 273.1v7.0M615.2 102.0h7.4M618.9 98.5v7.0M369.8 339.8h7.4M373.5 336.3v7.0M653.1 89.9h7.4M656.8 86.4v7.0M546.7 133.0h7.4M550.4 129.5v7.0M658.5 88.4h7.4M662.2 84.9v7.0M621.6 99.8h7.4M625.3 96.3v7.0M651.6 90.4h7.4M655.3 86.9v7.0M355.2 343.7h7.4M358.9 340.2v7.0M595.5 109.4h7.4M599.2 105.9v7.0M406.2 329.0h7.4M409.9 325.5v7.0M431.3 320.1h7.4M435.0 316.6v7.0M452.8 311.1h7.4M456.5 307.6v7.0M550.1 130.6h7.4M553.8 127.1v7.0M563.5 123.7h7.4M567.2 120.2v7.0M674.3 84.1h7.4M678.0 80.6v7.0M338.9 347.7h7.4M342.6 344.2v7.0M404.9 329.4h7.4M408.6 325.9v7.0M466.4 304.9h7.4M470.1 301.4v7.0M632.9 96.1h7.4M636.6 92.6v7.0M535.0 142.0h7.4M538.7 138.5v7.0M521.2 149.2h7.4M524.9 145.7v7.0M611.8 103.1h7.4M615.5 99.6v7.0M573.4 118.5h7.4M577.1 115.0v7.0M440.1 316.6h7.4M443.8 313.1v7.0M366.1 340.8h7.4M369.8 337.3v7.0M503.0 277.8h7.4M506.7 274.3v7.0M655.6 89.2h7.4M659.3 85.7v7.0M552.6 128.4h7.4M556.3 124.9v7.0M353.8 344.1h7.4M357.5 340.6v7.0M494.9 284.8h7.4M498.6 281.3v7.0M474.7 299.8h7.4M478.4 296.3v7.0M546.9 132.8h7.4M550.6 129.3v7.0M548.6 131.2h7.4M552.3 127.7v7.0M681.5 82.2h7.4M685.2 78.7v7.0M457.7 308.7h7.4M461.4 305.2v7.0M483.3 294.8h7.4M487.0 291.3v7.0M558.2 126.8h7.4M561.9 123.3v7.0M657.8 88.6h7.4M661.5 85.1v7.0M592.0 110.6h7.4M595.7 107.1v7.0M506.2 273.7h7.4M509.9 270.2v7.0M631.6 96.5h7.4M635.3 93.0v7.0M511.4 268.4h7.4M515.1 264.9v7.0M686.0 81.1h7.4M689.7 77.6v7.0M437.4 317.9h7.4M441.1 314.4v7.0M380.8 336.7h7.4M384.5 333.2v7.0M637.4 94.6h7.4M641.1 91.1v7.0M442.8 315.6h7.4M446.5 312.1v7.0M643.6 92.8h7.4M647.3 89.3v7.0M556.7 127.5h7.4M560.4 124.0v7.0M520.1 155.6h7.4M523.8 152.1v7.0M366.1 340.8h7.4M369.8 337.3v7.0M621.3 99.9h7.4M625.0 96.4v7.0M358.4 342.9h7.4M362.1 339.4v7.0M686.6 80.9h7.4M690.3 77.4v7.0M654.4 89.6h7.4M658.1 86.1v7.0M444.9 314.7h7.4M448.6 311.2v7.0M381.0 336.7h7.4M384.7 333.2v7.0M657.6 88.7h7.4M661.3 85.2v7.0M509.4 270.1h7.4M513.1 266.6v7.0M379.9 337.0h7.4M383.6 333.5v7.0M424.4 322.6h7.4M428.1 319.1v7.0M483.2 295.3h7.4M486.9 291.8v7.0M568.0 121.6h7.4M571.7 118.1v7.0M668.4 85.7h7.4M672.1 82.2v7.0M626.6 98.0h7.4M630.3 94.5v7.0M393.1 333.1h7.4M396.8 329.6v7.0M508.5 273.1h7.4M512.2 269.6v7.0M513.9 262.7h7.4M517.6 259.2v7.0M695.5 78.7h7.4M699.2 75.2v7.0M366.0 340.8h7.4M369.7 337.3v7.0M520.7 154.1h7.4M524.4 150.6v7.0M668.0 85.8h7.4M671.7 82.3v7.0M479.9 297.5h7.4M483.6 294.0v7.0M429.8 320.6h7.4M433.5 317.1v7.0M537.2 140.2h7.4M540.9 136.7v7.0M451.1 311.9h7.4M454.8 308.4v7.0M672.7 84.5h7.4M676.4 81.0v7.0M365.3 341.0h7.4M369.0 337.5v7.0M409.7 327.8h7.4M413.4 324.3v7.0M364.9 341.1h7.4M368.6 337.6v7.0M594.1 109.8h7.4M597.8 106.3v7.0M441.3 316.1h7.4M445.0 312.6v7.0M662.9 87.2h7.4M666.6 83.7v7.0M660.5 87.8h7.4M664.2 84.3v7.0M676.1 83.6h7.4M679.8 80.1v7.0M427.8 321.6h7.4M431.5 318.1v7.0M334.5 348.8h7.4M338.2 345.3v7.0M475.8 298.7h7.4M479.5 295.2v7.0M685.6 81.2h7.4M689.3 77.7v7.0M613.1 102.8h7.4M616.8 99.3v7.0M356.1 343.5h7.4M359.8 340.0v7.0M590.7 111.4h7.4M594.4 107.9v7.0M669.0 85.5h7.4M672.7 82.0v7.0M687.5 80.7h7.4M691.2 77.2v7.0M595.6 109.1h7.4M599.3 105.6v7.0M649.3 91.0h7.4M653.0 87.5v7.0M641.5 93.4h7.4M645.2 89.9v7.0M465.1 305.1h7.4M468.8 301.6v7.0M370.5 339.6h7.4M374.2 336.1v7.0M599.8 107.6h7.4M603.5 104.1v7.0M384.3 335.7h7.4M388.0 332.2v7.0M474.5 300.5h7.4M478.2 297.0v7.0M697.7 78.2h7.4M701.4 74.7v7.0M538.6 139.0h7.4M542.3 135.5v7.0M524.7 146.9h7.4M528.4 143.4v7.0M680.3 82.5h7.4M684.0 79.0v7.0M438.0 317.7h7.4M441.7 314.2v7.0M699.1 77.8h7.4M702.8 74.3v7.0M667.2 86.0h7.4M670.9 82.5v7.0M467.1 304.6h7.4M470.8 301.1v7.0M453.7 310.8h7.4M457.4 307.3v7.0M380.5 336.8h7.4M384.2 333.3v7.0M668.5 85.6h7.4M672.2 82.1v7.0M402.1 330.2h7.4M405.8 326.7v7.0M337.6 348.1h7.4M341.3 344.6v7.0M659.2 88.2h7.4M662.9 84.7v7.0M552.6 130.3h7.4M556.3 126.8v7.0M579.5 116.2h7.4M583.2 112.7v7.0M601.9 106.7h7.4M605.6 103.2v7.0M349.9 345.0h7.4M353.6 341.5v7.0M367.8 340.3h7.4M371.5 336.8v7.0M352.6 344.3h7.4M356.3 340.8v7.0M603.1 106.5h7.4M606.8 103.0v7.0M574.3 118.3h7.4M578.0 114.8v7.0M559.4 125.5h7.4M563.1 122.0v7.0M351.2 344.7h7.4M354.9 341.2v7.0M420.7 324.0h7.4M424.4 320.5v7.0M661.9 87.4h7.4M665.6 83.9v7.0M379.3 337.2h7.4M383.0 333.7v7.0M528.9 144.5h7.4M532.6 141.0v7.0M352.6 344.4h7.4M356.3 340.9v7.0M677.1 83.3h7.4M680.8 79.8v7.0M396.9 331.9h7.4M400.6 328.4v7.0M484.0 293.6h7.4M487.7 290.1v7.0M533.9 141.4h7.4M537.6 137.9v7.0M596.6 108.9h7.4M600.3 105.4v7.0M676.5 83.5h7.4M680.2 80.0v7.0M603.1 106.4h7.4M606.8 102.9v7.0M461.1 307.0h7.4M464.8 303.5v7.0M361.8 341.9h7.4M365.5 338.4v7.0M592.5 110.6h7.4M596.2 107.1v7.0M689.3 80.2h7.4M693.0 76.7v7.0M340.5 347.4h7.4M344.2 343.9v7.0M617.1 101.4h7.4M620.8 97.9v7.0M398.6 331.4h7.4M402.3 327.9v7.0M502.2 279.8h7.4M505.9 276.3v7.0M525.1 149.2h7.4M528.8 145.7v7.0M558.6 127.0h7.4M562.3 123.5v7.0M695.5 78.7h7.4M699.2 75.2v7.0M585.2 113.7h7.4M588.9 110.2v7.0M477.5 298.1h7.4M481.2 294.6v7.0M595.3 109.5h7.4M599.0 106.0v7.0M504.7 275.6h7.4M508.4 272.1v7.0M485.1 293.3h7.4M488.8 289.8v7.0M467.8 304.6h7.4M471.5 301.1v7.0M514.4 265.0h7.4M518.1 261.5v7.0M436.9 318.0h7.4M440.6 314.5v7.0M422.7 323.4h7.4M426.4 319.9v7.0M388.5 334.5h7.4M392.2 331.0v7.0M495.0 285.3h7.4M498.7 281.8v7.0M441.3 316.2h7.4M445.0 312.7v7.0M639.8 93.9h7.4M643.5 90.4v7.0M643.8 92.7h7.4M647.5 89.2v7.0M459.8 308.2h7.4M463.5 304.7v7.0M560.3 125.2h7.4M564.0 121.7v7.0M663.6 87.0h7.4M667.3 83.5v7.0M465.4 305.2h7.4M469.1 301.7v7.0M536.8 139.8h7.4M540.5 136.3v7.0M496.2 284.1h7.4M499.9 280.6v7.0M571.6 119.8h7.4M575.3 116.3v7.0M684.6 81.4h7.4M688.3 77.9v7.0M384.9 335.5h7.4M388.6 332.0v7.0M686.7 80.9h7.4M690.4 77.4v7.0M577.3 117.0h7.4M581.0 113.5v7.0M624.8 98.7h7.4M628.5 95.2v7.0M566.1 122.0h7.4M569.8 118.5v7.0M652.0 90.3h7.4M655.7 86.8v7.0M453.4 310.9h7.4M457.1 307.4v7.0M592.7 110.4h7.4M596.4 106.9v7.0M430.7 320.3h7.4M434.4 316.8v7.0M520.0 150.8h7.4M523.7 147.3v7.0M583.0 114.6h7.4M586.7 111.1v7.0M407.7 328.4h7.4M411.4 324.9v7.0M356.6 343.3h7.4M360.3 339.8v7.0M623.0 99.3h7.4M626.7 95.8v7.0M629.6 97.2h7.4M633.3 93.7v7.0M577.3 117.4h7.4M581.0 113.9v7.0M451.6 311.7h7.4M455.3 308.2v7.0M574.5 118.1h7.4M578.2 114.6v7.0M364.9 341.1h7.4M368.6 337.6v7.0M576.1 117.7h7.4M579.8 114.2v7.0M544.6 135.4h7.4M548.3 131.9v7.0M559.6 125.8h7.4M563.3 122.3v7.0M497.4 285.4h7.4M501.1 281.9v7.0M416.5 325.5h7.4M420.2 322.0v7.0M599.2 107.9h7.4M602.9 104.4v7.0M503.7 278.6h7.4M507.4 275.1v7.0M606.4 105.2h7.4M610.1 101.7v7.0M467.2 304.3h7.4M470.9 300.8v7.0M366.3 340.7h7.4M370.0 337.2v7.0M532.3 144.4h7.4M536.0 140.9v7.0M561.6 124.5h7.4M565.3 121.0v7.0M670.7 85.0h7.4M674.4 81.5v7.0M658.3 88.5h7.4M662.0 85.0v7.0M355.2 343.7h7.4M358.9 340.2v7.0M616.0 101.7h7.4M619.7 98.2v7.0M429.7 320.7h7.4M433.4 317.2v7.0M588.8 112.3h7.4M592.5 108.8v7.0M472.8 301.0h7.4M476.5 297.5v7.0M451.9 311.4h7.4M455.6 307.9v7.0M512.5 264.0h7.4M516.2 260.5v7.0M527.9 145.9h7.4M531.6 142.4v7.0M587.8 112.8h7.4M591.5 109.3v7.0M567.1 122.0h7.4M570.8 118.5v7.0M581.9 115.2h7.4M585.6 111.7v7.0M474.5 299.8h7.4M478.2 296.3v7.0M581.5 115.2h7.4M585.2 111.7v7.0M460.4 307.8h7.4M464.1 304.3v7.0M556.0 128.6h7.4M559.7 125.1v7.0M502.0 278.7h7.4M505.7 275.2v7.0M539.7 138.3h7.4M543.4 134.8v7.0M340.7 347.3h7.4M344.4 343.8v7.0M414.6 326.1h7.4M418.3 322.6v7.0M475.1 299.8h7.4M478.8 296.3v7.0M361.2 342.1h7.4M364.9 338.6v7.0M574.1 118.0h7.4M577.8 114.5v7.0M660.4 87.9h7.4M664.1 84.4v7.0M463.7 306.2h7.4M467.4 302.7v7.0M372.6 339.0h7.4M376.3 335.5v7.0M560.7 124.6h7.4M564.4 121.1v7.0M380.7 336.8h7.4M384.4 333.3v7.0M659.7 88.1h7.4M663.4 84.6v7.0M379.0 337.2h7.4M382.7 333.7v7.0M466.4 305.1h7.4M470.1 301.6v7.0M514.9 263.1h7.4M518.6 259.6v7.0M377.3 337.7h7.4M381.0 334.2v7.0M450.6 312.2h7.4M454.3 308.7v7.0M434.8 318.8h7.4M438.5 315.3v7.0M594.7 109.6h7.4M598.4 106.1v7.0M694.3 79.0h7.4M698.0 75.5v7.0M466.7 304.8h7.4M470.4 301.3v7.0M622.9 99.3h7.4M626.6 95.8v7.0M385.5 335.3h7.4M389.2 331.8v7.0M546.0 133.4h7.4M549.7 129.9v7.0M492.2 288.7h7.4M495.9 285.2v7.0M439.5 316.8h7.4M443.2 313.3v7.0M634.2 95.6h7.4M637.9 92.1v7.0M606.7 105.0h7.4M610.4 101.5v7.0M383.2 336.0h7.4M386.9 332.5v7.0M441.0 316.3h7.4M444.7 312.8v7.0M633.4 95.9h7.4M637.1 92.4v7.0M696.5 78.4h7.4M700.2 74.9v7.0M557.5 127.5h7.4M561.2 124.0v7.0M652.5 90.1h7.4M656.2 86.6v7.0M693.5 79.2h7.4M697.2 75.7v7.0M604.6 106.0h7.4M608.3 102.5v7.0M569.6 120.8h7.4M573.3 117.3v7.0M415.1 326.0h7.4M418.8 322.5v7.0M469.5 303.1h7.4M473.2 299.6v7.0M561.9 124.7h7.4M565.6 121.2v7.0M672.4 84.6h7.4M676.1 81.1v7.0M444.5 314.9h7.4M448.2 311.4v7.0M478.6 298.9h7.4M482.3 295.4v7.0M342.4 346.9h7.4M346.1 343.4v7.0M588.6 112.2h7.4M592.3 108.7v7.0M496.2 284.0h7.4M499.9 280.5v7.0M625.5 98.5h7.4M629.2 95.0v7.0M419.6 324.4h7.4M423.3 320.9v7.0M575.1 118.1h7.4M578.8 114.6v7.0M580.0 116.0h7.4M583.7 112.5v7.0M503.8 279.6h7.4M507.5 276.1v7.0M403.1 329.9h7.4M406.8 326.4v7.0M481.4 295.8h7.4M485.1 292.3v7.0M606.2 105.1h7.4M609.9 101.6v7.0M403.4 329.9h7.4M407.1 326.4v7.0M367.2 340.5h7.4M370.9 337.0v7.0M503.2 277.9h7.4M506.9 274.4v7.0M419.9 324.3h7.4M423.6 320.8v7.0M626.5 98.1h7.4M630.2 94.6v7.0M632.6 96.2h7.4M636.3 92.7v7.0M679.3 82.8h7.4M683.0 79.3v7.0M640.8 93.6h7.4M644.5 90.1v7.0M570.6 119.6h7.4M574.3 116.1v7.0M402.6 330.1h7.4M406.3 326.6v7.0M634.7 95.5h7.4M638.4 92.0v7.0M600.1 107.6h7.4M603.8 104.1v7.0M606.9 104.9h7.4M610.6 101.4v7.0M588.9 112.0h7.4M592.6 108.5v7.0M637.3 94.7h7.4M641.0 91.2v7.0M443.0 315.6h7.4M446.7 312.1v7.0M579.7 116.0h7.4M583.4 112.5v7.0M523.1 150.2h7.4M526.8 146.7v7.0M457.6 309.1h7.4M461.3 305.6v7.0M453.6 310.8h7.4M457.3 307.3v7.0M391.0 333.7h7.4M394.7 330.2v7.0M513.7 265.6h7.4M517.4 262.1v7.0M468.9 303.4h7.4M472.6 299.9v7.0M488.2 291.3h7.4M491.9 287.8v7.0M645.2 92.3h7.4M648.9 88.8v7.0M583.1 114.7h7.4M586.8 111.2v7.0M582.6 114.5h7.4M586.3 111.0v7.0M693.5 79.2h7.4M697.2 75.7v7.0M413.8 326.5h7.4M417.5 323.0v7.0M519.7 156.9h7.4M523.4 153.4v7.0M368.1 340.3h7.4M371.8 336.8v7.0M477.7 297.7h7.4M481.4 294.2v7.0M681.2 82.3h7.4M684.9 78.8v7.0M365.7 340.9h7.4M369.4 337.4v7.0M610.9 103.4h7.4M614.6 99.9v7.0M650.2 90.8h7.4M653.9 87.3v7.0M520.1 150.5h7.4M523.8 147.0v7.0M625.4 98.5h7.4M629.1 95.0v7.0M495.3 286.8h7.4M499.0 283.3v7.0M463.3 306.0h7.4M467.0 302.5v7.0M518.9 154.3h7.4M522.6 150.8v7.0M405.4 329.2h7.4M409.1 325.7v7.0M446.5 314.1h7.4M450.2 310.6v7.0M445.8 314.3h7.4M449.5 310.8v7.0M695.1 78.8h7.4M698.8 75.3v7.0M456.6 309.3h7.4M460.3 305.8v7.0M417.8 325.1h7.4M421.5 321.6v7.0M677.3 83.3h7.4M681.0 79.8v7.0M384.9 335.5h7.4M388.6 332.0v7.0M686.8 80.9h7.4M690.5 77.4v7.0M645.8 92.1h7.4M649.5 88.6v7.0M570.5 120.4h7.4M574.2 116.9v7.0M490.4 291.3h7.4M494.1 287.8v7.0M406.3 329.0h7.4M410.0 325.5v7.0M373.1 338.9h7.4M376.8 335.4v7.0M372.1 339.1h7.4M375.8 335.6v7.0M461.7 306.7h7.4M465.4 303.2v7.0M482.9 295.2h7.4M486.6 291.7v7.0M671.5 84.8h7.4M675.2 81.3v7.0M530.0 148.8h7.4M533.7 145.3v7.0M695.9 78.6h7.4M699.6 75.1v7.0M597.4 108.4h7.4M601.1 104.9v7.0M387.7 334.7h7.4M391.4 331.2v7.0M536.4 140.2h7.4M540.1 136.7v7.0M392.5 333.2h7.4M396.2 329.7v7.0M348.6 345.4h7.4M352.3 341.9v7.0M678.8 82.9h7.4M682.5 79.4v7.0M457.6 309.1h7.4M461.3 305.6v7.0M403.5 329.8h7.4M407.2 326.3v7.0M371.5 339.3h7.4M375.2 335.8v7.0M572.3 119.6h7.4M576.0 116.1v7.0M502.6 278.3h7.4M506.3 274.8v7.0M338.6 347.8h7.4M342.3 344.3v7.0M595.3 109.2h7.4M599.0 105.7v7.0M428.0 321.3h7.4M431.7 317.8v7.0M619.2 100.6h7.4M622.9 97.1v7.0M512.6 261.9h7.4M516.3 258.4v7.0M529.8 144.9h7.4M533.5 141.4v7.0M501.2 281.4h7.4M504.9 277.9v7.0M581.0 115.3h7.4M584.7 111.8v7.0M695.7 78.7h7.4M699.4 75.2v7.0M625.5 98.4h7.4M629.2 94.9v7.0M504.8 174.0h7.4M508.5 170.5v7.0M509.7 164.3h7.4M513.4 160.8v7.0M512.3 158.0h7.4M516.0 154.5v7.0M517.8 151.3h7.4M521.5 147.8v7.0M521.0 147.3h7.4M524.7 143.8v7.0M527.5 156.2h7.4M531.2 152.7v7.0M542.1 153.8h7.4M545.8 150.3v7.0M518.1 151.8h7.4M521.8 148.3v7.0M509.2 164.7h7.4M512.9 161.2v7.0M529.8 250.5h7.4M533.5 247.0v7.0M500.4 260.2h7.4M504.1 256.7v7.0M513.7 257.1h7.4M517.4 253.6v7.0M517.3 265.6h7.4M521.0 262.1v7.0M497.8 275.5h7.4M501.5 272.0v7.0M500.0 260.3h7.4M503.7 256.8v7.0M508.3 268.0h7.4M512.0 264.5v7.0M514.3 272.0h7.4M518.0 268.5v7.0M505.6 174.2h7.4M509.3 170.7v7.0M509.4 164.7h7.4M513.1 161.2v7.0M513.0 159.7h7.4M516.7 156.2v7.0M519.9 151.9h7.4M523.6 148.4v7.0"/><path d="M63.0 8.4H978.4V417.8H63.0ZM63.05 417.8v-9M63.05 8.4v9M215.60 417.8v-9M215.60 8.4v9M368.15 417.8v-9M368.15 8.4v9M520.70 417.8v-9M520.70 8.4v9M673.25 417.8v-9M673.25 8.4v9M825.80 417.8v-9M825.80 8.4v9M978.35 417.8v-9M978.35 8.4v9M63.0 417.90h9M978.4 417.90h-9M63.0 349.65h9M978.4 349.65h-9M63.0 281.40h9M978.4 281.40h-9M63.0 213.15h9M978.4 213.15h-9M63.0 144.90h9M978.4 144.90h-9M63.0 76.65h9M978.4 76.65h-9M63.0 8.40h9M978.4 8.40h-9" stroke="#6c6c6c" stroke-width="1.5" fill="none"/><g font-size="27" fill="#404040"><text x="63.05" y="452" text-anchor="middle">-1.5</text><text x="215.60" y="452" text-anchor="middle">-1</text><text x="368.15" y="452" text-anchor="middle">-0.5</text><text x="520.70" y="452" text-anchor="middle">0</text><text x="673.25" y="452" text-anchor="middle">0.5</text><text x="825.80" y="452" text-anchor="middle">1</text><text x="978.35" y="452" text-anchor="middle">1.5</text><text x="55.4" y="429.50" text-anchor="end">-6</text><text x="55.4" y="361.25" text-anchor="end">-4</text><text x="55.4" y="293.00" text-anchor="end">-2</text><text x="55.4" y="224.75" text-anchor="end">0</text><text x="55.4" y="156.50" text-anchor="end">2</text><text x="55.4" y="88.25" text-anchor="end">4</text><text x="55.4" y="20.00" text-anchor="end">6</text></g><text transform="translate(520.5 489.2) scale(0.977 1)" text-anchor="middle" font-size="30" fill="#404040">SR neurons inputs</text><text transform="translate(21.8 213.8) rotate(-90) scale(0.978 1)" x="0" y="0" text-anchor="middle" font-size="30" fill="#404040">SR neurons outputs</text><rect x="652.6" y="287.8" width="318.9" height="123.1" fill="#fff" stroke="#7d7d7d" stroke-width="1"/><text x="684" y="314.1" font-size="24" fill="#1a1a1a">ESN evolution step = 1</text><circle cx="668.4" cy="304.3" r="3.05" fill="#0b73b3"/><text x="684" y="343.8" font-size="24" fill="#1a1a1a">ESN evolution step = 10</text><path d="M665.85 331.45l5.1 5.1M670.9499999999999 331.45l-5.1 5.1" stroke="#f0964a" stroke-width="2.3"/><text x="684" y="373.5" font-size="24" fill="#1a1a1a">ESN evolution step = 1000</text><circle cx="668.4" cy="363.7" r="2.85" fill="none" stroke="#9e5c90" stroke-width="2"/><text x="684" y="403.3" font-size="24" fill="#1a1a1a">ESN evolution step = 3100</text><path d="M664.6999999999999 393.5h7.4M668.4 390.0v7" stroke="#7aac56" stroke-width="2"/>
</svg></body></html>
